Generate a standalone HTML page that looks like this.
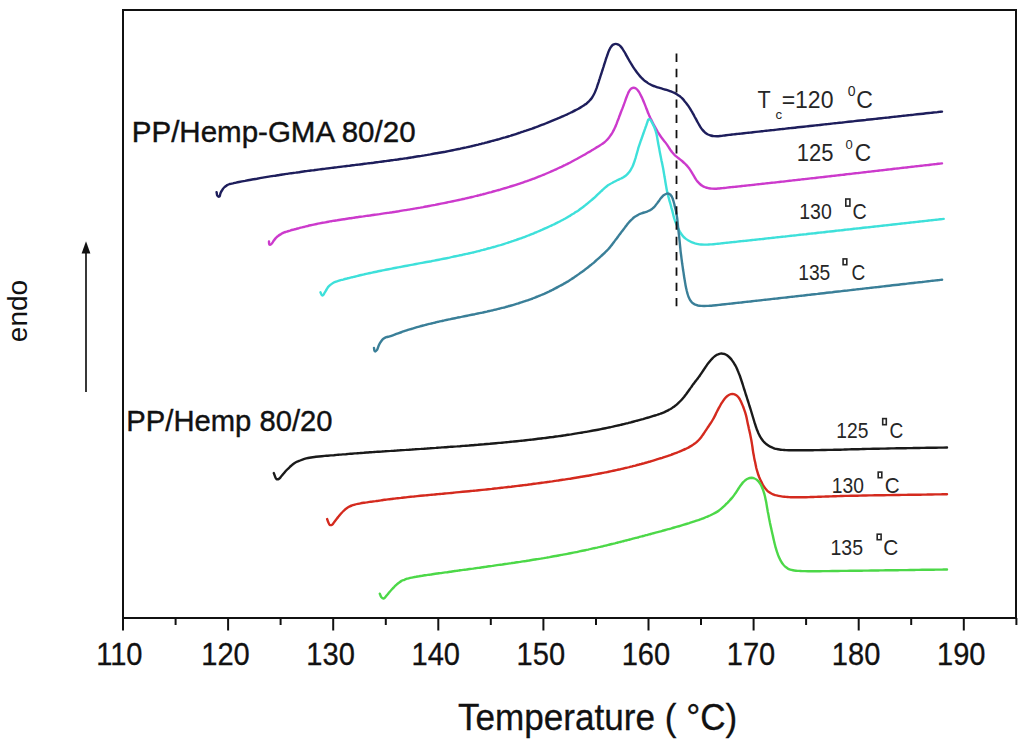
<!DOCTYPE html>
<html><head><meta charset="utf-8"><style>
html,body{margin:0;padding:0;background:#fff;width:1024px;height:746px;overflow:hidden}
svg{display:block}
text{font-family:"Liberation Sans",sans-serif}
</style></head><body>
<svg width="1024" height="746" viewBox="0 0 1024 746">
<rect x="0" y="0" width="1024" height="746" fill="#fff"/>
<g fill="none" stroke-width="2.4" stroke-linejoin="round" stroke-linecap="round">
<path d="M216.6 192.2 C216.9 193.4 216.7 194.7 217.4 195.7 C217.8 196.3 218.8 197.0 219.4 196.6 C220.3 195.9 220.0 194.3 220.5 193.3 C220.9 192.2 221.4 191.2 222.1 190.2 C222.7 189.3 223.3 188.3 224.1 187.5 C224.9 186.7 225.8 186.0 226.7 185.4 C227.7 184.8 228.7 184.4 229.7 184.0 C230.8 183.7 231.9 183.6 233.0 183.4 C234.0 183.1 235.0 182.9 236.1 182.6 C237.1 182.4 238.0 182.2 239.0 182.0 C240.0 181.8 241.0 181.6 242.0 181.4 C243.0 181.2 244.0 181.0 245.0 180.9 C246.0 180.7 247.0 180.5 248.0 180.3 C249.0 180.1 250.0 179.9 251.0 179.7 C252.0 179.6 252.9 179.4 253.9 179.2 C254.9 179.0 255.9 178.8 256.9 178.7 C257.9 178.5 258.9 178.3 259.9 178.1 C260.9 178.0 261.9 177.8 262.9 177.6 C263.9 177.5 264.9 177.3 265.9 177.1 C266.9 177.0 267.9 176.8 268.9 176.6 C269.9 176.5 270.9 176.3 271.9 176.1 C272.9 176.0 273.9 175.8 274.9 175.7 C275.9 175.5 276.9 175.4 277.9 175.2 C278.9 175.0 279.9 174.9 280.9 174.7 C281.9 174.6 282.9 174.4 283.9 174.3 C284.9 174.1 285.9 174.0 286.8 173.9 C287.8 173.7 288.8 173.6 289.8 173.4 C290.8 173.3 291.8 173.1 292.8 173.0 C293.8 172.8 294.8 172.7 295.8 172.6 C296.8 172.4 297.8 172.3 298.8 172.2 C299.8 172.0 300.8 171.9 301.8 171.7 C302.8 171.6 303.8 171.5 304.8 171.3 C305.8 171.2 306.8 171.1 307.8 170.9 C308.8 170.8 309.8 170.7 310.8 170.5 C311.8 170.4 312.8 170.3 313.8 170.2 C314.8 170.0 315.8 169.9 316.8 169.8 C317.8 169.6 318.8 169.5 319.8 169.4 C320.7 169.3 321.7 169.1 322.7 169.0 C323.7 168.9 324.7 168.8 325.7 168.6 C326.7 168.5 327.7 168.4 328.7 168.3 C329.7 168.1 330.7 168.0 331.7 167.9 C332.7 167.8 333.7 167.6 334.7 167.5 C335.7 167.4 336.7 167.3 337.7 167.1 C338.7 167.0 339.7 166.9 340.7 166.8 C341.7 166.6 342.7 166.5 343.7 166.4 C344.7 166.3 345.7 166.2 346.7 166.0 C347.7 165.9 348.7 165.8 349.7 165.7 C350.7 165.5 351.7 165.4 352.7 165.3 C353.6 165.2 354.6 165.1 355.6 164.9 C356.6 164.8 357.6 164.7 358.6 164.6 C359.6 164.4 360.6 164.3 361.6 164.2 C362.6 164.1 363.6 163.9 364.6 163.8 C365.6 163.7 366.6 163.6 367.6 163.4 C368.6 163.3 369.6 163.2 370.6 163.1 C371.6 162.9 372.6 162.8 373.6 162.7 C374.6 162.5 375.6 162.4 376.6 162.3 C377.6 162.2 378.6 162.0 379.6 161.9 C380.6 161.8 381.6 161.6 382.6 161.5 C383.6 161.4 384.6 161.2 385.6 161.1 C386.6 161.0 387.5 160.8 388.5 160.7 C389.5 160.6 390.5 160.4 391.5 160.3 C392.5 160.2 393.5 160.0 394.5 159.9 C395.5 159.8 396.5 159.6 397.5 159.5 C398.5 159.3 399.5 159.2 400.5 159.0 C401.5 158.9 402.5 158.8 403.5 158.6 C404.5 158.5 405.5 158.3 406.5 158.2 C407.5 158.0 408.5 157.9 409.5 157.7 C410.5 157.6 411.5 157.4 412.5 157.3 C413.5 157.1 414.5 157.0 415.5 156.8 C416.5 156.7 417.5 156.5 418.5 156.3 C419.5 156.2 420.5 156.0 421.4 155.9 C422.4 155.7 423.4 155.5 424.4 155.4 C425.4 155.2 426.4 155.0 427.4 154.9 C428.4 154.7 429.4 154.5 430.4 154.4 C431.4 154.2 432.4 154.0 433.4 153.8 C434.4 153.7 435.4 153.5 436.4 153.3 C437.4 153.1 438.4 153.0 439.4 152.8 C440.4 152.6 441.4 152.4 442.4 152.2 C443.4 152.0 444.4 151.8 445.4 151.7 C446.4 151.5 447.4 151.3 448.4 151.1 C449.4 150.9 450.4 150.7 451.4 150.5 C452.4 150.3 453.3 150.1 454.3 149.9 C455.3 149.7 456.3 149.5 457.3 149.3 C458.3 149.1 459.3 148.9 460.3 148.7 C461.3 148.4 462.3 148.2 463.3 148.0 C464.3 147.8 465.3 147.6 466.3 147.4 C467.3 147.1 468.3 146.9 469.3 146.7 C470.3 146.5 471.3 146.2 472.3 146.0 C473.3 145.8 474.3 145.5 475.3 145.3 C476.3 145.1 477.3 144.8 478.3 144.6 C479.3 144.3 480.3 144.1 481.3 143.8 C482.3 143.6 483.3 143.3 484.3 143.1 C485.3 142.8 486.2 142.6 487.2 142.3 C488.2 142.1 489.2 141.8 490.2 141.5 C491.2 141.3 492.2 141.0 493.2 140.7 C494.2 140.5 495.2 140.2 496.2 139.9 C497.2 139.6 498.2 139.4 499.2 139.1 C500.2 138.8 501.2 138.5 502.2 138.2 C503.2 137.9 504.2 137.6 505.2 137.4 C506.2 137.1 507.2 136.8 508.2 136.5 C509.2 136.2 510.2 135.9 511.2 135.5 C512.2 135.2 513.2 134.9 514.2 134.6 C515.2 134.3 516.2 134.0 517.2 133.6 C518.2 133.3 519.2 133.0 520.1 132.7 C521.1 132.3 522.1 132.0 523.1 131.7 C524.1 131.3 525.1 131.0 526.1 130.7 C527.1 130.3 528.1 130.0 529.1 129.6 C530.1 129.3 531.1 128.9 532.1 128.6 C533.1 128.2 534.1 127.8 535.1 127.5 C536.1 127.1 537.1 126.7 538.1 126.4 C539.1 126.0 540.1 125.6 541.1 125.2 C542.1 124.8 543.1 124.5 544.1 124.1 C545.1 123.7 546.1 123.3 547.1 122.9 C548.1 122.5 549.1 122.1 550.1 121.7 C551.1 121.3 552.1 120.9 553.1 120.4 C554.1 120.0 555.1 119.6 556.1 119.2 C557.1 118.7 558.1 118.3 559.1 117.9 C560.0 117.5 561.0 117.1 561.9 116.7 C562.8 116.3 563.7 115.9 564.6 115.5 C565.5 115.1 566.4 114.7 567.3 114.3 C568.2 113.8 569.1 113.4 570.0 113.0 C571.0 112.5 571.9 112.1 572.8 111.6 C573.8 111.1 574.7 110.6 575.6 110.1 C576.5 109.7 577.5 109.2 578.4 108.7 C579.3 108.1 580.2 107.6 581.1 107.1 C582.0 106.6 582.9 106.0 583.8 105.5 C584.6 104.9 585.5 104.3 586.3 103.7 C587.1 103.0 587.9 102.4 588.6 101.7 C589.3 100.9 590.0 100.2 590.7 99.4 C591.4 98.6 592.0 97.7 592.5 96.8 C593.1 95.9 593.6 95.0 594.1 94.0 C594.6 93.1 595.0 92.1 595.4 91.1 C595.8 90.1 596.2 89.1 596.6 88.1 C596.9 87.0 597.3 86.0 597.6 85.0 C598.0 83.9 598.3 82.9 598.7 81.8 C599.0 80.7 599.3 79.7 599.7 78.6 C600.0 77.6 600.4 76.6 600.7 75.5 C601.0 74.5 601.4 73.5 601.7 72.5 C602.0 71.5 602.4 70.4 602.7 69.4 C603.0 68.5 603.3 67.5 603.6 66.6 C603.9 65.6 604.2 64.7 604.5 63.7 C604.8 62.8 605.1 61.8 605.4 60.9 C605.7 59.8 606.0 58.8 606.4 57.8 C606.7 56.8 607.1 55.8 607.4 54.8 C607.8 53.8 608.1 52.8 608.5 51.8 C608.9 50.9 609.2 50.0 609.7 49.1 C610.1 48.2 610.6 47.4 611.2 46.6 C611.8 45.9 612.5 45.1 613.3 44.6 C614.0 44.2 614.9 43.9 615.8 43.9 C616.7 43.9 617.5 44.2 618.3 44.6 C619.1 45.1 619.9 45.7 620.6 46.4 C621.3 47.2 621.9 48.0 622.5 48.8 C623.1 49.7 623.6 50.5 624.1 51.4 C624.7 52.3 625.2 53.2 625.7 54.1 C626.2 55.1 626.7 56.0 627.2 56.9 C627.7 57.8 628.2 58.8 628.8 59.7 C629.3 60.7 629.9 61.7 630.5 62.7 C631.1 63.6 631.7 64.6 632.3 65.6 C632.8 66.4 633.3 67.2 633.9 68.1 C634.4 68.9 635.0 69.7 635.6 70.5 C636.2 71.4 636.9 72.4 637.6 73.3 C638.3 74.2 639.1 75.2 639.9 76.1 C640.6 76.9 641.4 77.7 642.2 78.5 C643.0 79.2 643.8 80.0 644.6 80.7 C645.5 81.4 646.4 82.0 647.3 82.6 C648.1 83.2 649.0 83.8 650.0 84.3 C650.8 84.8 651.8 85.2 652.7 85.6 C653.6 86.0 654.6 86.3 655.5 86.6 C656.6 87.0 657.7 87.4 658.8 87.7 C659.9 88.0 661.0 88.4 662.1 88.7 C663.1 89.0 664.1 89.2 665.0 89.5 C666.0 89.8 667.0 90.1 668.0 90.4 C668.9 90.7 669.9 91.0 670.9 91.4 C671.9 91.8 673.0 92.2 673.9 92.7 C674.9 93.1 675.9 93.6 676.8 94.2 C677.7 94.8 678.6 95.4 679.5 96.0 C680.3 96.7 681.2 97.4 682.0 98.2 C682.8 99.0 683.6 99.9 684.3 100.8 C685.1 101.6 685.8 102.6 686.5 103.5 C687.1 104.3 687.7 105.1 688.3 105.9 C688.8 106.7 689.4 107.5 689.9 108.3 C690.4 109.2 690.9 110.0 691.4 110.9 C692.0 111.8 692.5 112.7 693.0 113.7 C693.5 114.6 694.0 115.5 694.5 116.5 C695.0 117.4 695.5 118.3 696.0 119.2 C696.5 120.1 697.0 121.1 697.5 122.0 C698.0 122.9 698.5 123.8 699.0 124.6 C699.5 125.5 700.0 126.4 700.6 127.3 C701.2 128.2 701.8 129.1 702.5 129.9 C703.2 130.7 703.9 131.5 704.7 132.2 C705.6 132.9 706.5 133.6 707.5 134.2 C708.5 134.7 709.6 135.2 710.7 135.5 C711.7 135.8 712.8 136.0 713.8 136.1 C714.9 136.2 716.0 136.2 717.0 136.2 C718.0 136.2 719.1 136.1 720.1 136.0 C721.1 135.9 722.1 135.8 723.0 135.6 C724.0 135.5 725.0 135.4 726.0 135.2 C727.0 135.1 728.0 135.0 729.0 134.9 C730.0 134.8 731.0 134.7 732.0 134.5 C733.0 134.4 734.0 134.3 735.0 134.2 C736.0 134.1 736.9 134.0 737.9 133.9 C738.9 133.8 739.9 133.7 740.9 133.6 C741.9 133.4 742.9 133.3 743.9 133.2 C744.9 133.1 745.9 133.0 746.9 132.9 C747.9 132.8 748.9 132.7 749.9 132.6 C750.9 132.5 751.9 132.4 752.9 132.2 C753.9 132.1 754.9 132.0 755.9 131.9 C756.9 131.8 757.9 131.7 758.8 131.6 C759.8 131.5 760.8 131.4 761.8 131.3 C762.8 131.2 763.8 131.0 764.8 130.9 C765.8 130.8 766.8 130.7 767.8 130.6 C768.8 130.5 769.8 130.4 770.8 130.3 C771.8 130.2 772.8 130.1 773.8 130.0 C774.8 129.8 775.8 129.7 776.8 129.6 C777.8 129.5 778.8 129.4 779.7 129.3 C780.7 129.2 781.7 129.1 782.7 129.0 C783.7 128.9 784.7 128.8 785.7 128.6 C786.7 128.5 787.7 128.4 788.7 128.3 C789.7 128.2 790.7 128.1 791.7 128.0 C792.7 127.9 793.7 127.8 794.7 127.7 C795.7 127.6 796.7 127.4 797.7 127.3 C798.7 127.2 799.7 127.1 800.7 127.0 C801.6 126.9 802.6 126.8 803.6 126.7 C804.6 126.6 805.6 126.5 806.6 126.4 C807.6 126.3 808.6 126.1 809.6 126.0 C810.6 125.9 811.6 125.8 812.6 125.7 C813.6 125.6 814.6 125.5 815.6 125.4 C816.6 125.3 817.6 125.2 818.6 125.1 C819.6 124.9 820.6 124.8 821.6 124.7 C822.5 124.6 823.5 124.5 824.5 124.4 C825.5 124.3 826.5 124.2 827.5 124.1 C828.5 124.0 829.5 123.9 830.5 123.8 C831.5 123.6 832.5 123.5 833.5 123.4 C834.5 123.3 835.5 123.2 836.5 123.1 C837.5 123.0 838.5 122.9 839.5 122.8 C840.5 122.7 841.5 122.6 842.5 122.5 C843.5 122.3 844.4 122.2 845.4 122.1 C846.4 122.0 847.4 121.9 848.4 121.8 C849.4 121.7 850.4 121.6 851.4 121.5 C852.4 121.4 853.4 121.3 854.4 121.1 C855.4 121.0 856.4 120.9 857.4 120.8 C858.4 120.7 859.4 120.6 860.4 120.5 C861.4 120.4 862.4 120.3 863.4 120.2 C864.4 120.1 865.4 120.0 866.3 119.8 C867.3 119.7 868.3 119.6 869.3 119.5 C870.3 119.4 871.3 119.3 872.3 119.2 C873.3 119.1 874.3 119.0 875.3 118.9 C876.3 118.8 877.3 118.7 878.3 118.5 C879.3 118.4 880.3 118.3 881.3 118.2 C882.3 118.1 883.3 118.0 884.3 117.9 C885.3 117.8 886.3 117.7 887.3 117.6 C888.2 117.5 889.2 117.4 890.2 117.2 C891.2 117.1 892.2 117.0 893.2 116.9 C894.2 116.8 895.2 116.7 896.2 116.6 C897.2 116.5 898.2 116.4 899.2 116.3 C900.2 116.2 901.2 116.1 902.2 115.9 C903.2 115.8 904.2 115.7 905.2 115.6 C906.2 115.5 907.2 115.4 908.2 115.3 C909.2 115.2 910.1 115.1 911.1 115.0 C912.1 114.9 913.1 114.8 914.1 114.6 C915.1 114.5 916.1 114.4 917.1 114.3 C918.1 114.2 919.1 114.1 920.1 114.0 C921.1 113.9 922.1 113.8 923.1 113.7 C924.1 113.6 925.1 113.4 926.1 113.3 C927.1 113.2 928.1 113.1 929.1 113.0 C930.1 112.9 931.0 112.8 932.0 112.7 C933.0 112.6 933.9 112.5 934.9 112.4 C935.7 112.3 936.5 112.2 937.4 112.1 C937.9 112.0 938.5 112.0 939.1 111.9 C940.1 111.8 941.0 111.7 942.0 111.6" stroke="#1e1e5c"/>
<path d="M269.0 241.4 C269.2 242.5 268.6 244.1 269.5 244.7 C270.2 245.3 271.2 244.1 271.8 243.5 C272.7 242.7 273.1 241.5 273.8 240.6 C274.4 239.7 275.0 238.9 275.7 238.1 C276.5 237.4 277.2 236.6 278.1 236.0 C279.0 235.3 280.0 234.7 281.0 234.1 C281.9 233.5 282.9 232.9 284.0 232.5 C285.0 232.1 286.1 231.9 287.1 231.5 C288.1 231.2 289.1 230.9 290.1 230.6 C291.0 230.3 292.0 230.0 293.0 229.8 C294.0 229.5 294.9 229.2 295.9 229.0 C296.9 228.7 297.9 228.4 298.9 228.2 C299.9 227.9 300.9 227.6 301.9 227.4 C302.8 227.1 303.8 226.9 304.8 226.7 C305.8 226.4 306.8 226.2 307.8 226.0 C308.8 225.7 309.7 225.5 310.7 225.3 C311.7 225.1 312.7 224.9 313.7 224.6 C314.7 224.4 315.7 224.2 316.7 224.0 C317.6 223.8 318.6 223.6 319.6 223.4 C320.6 223.2 321.6 223.0 322.6 222.8 C323.6 222.7 324.6 222.5 325.5 222.3 C326.5 222.1 327.5 221.9 328.5 221.7 C329.5 221.6 330.5 221.4 331.4 221.2 C332.4 221.1 333.4 220.9 334.3 220.7 C335.3 220.6 336.3 220.4 337.3 220.3 C338.4 220.1 339.4 219.9 340.5 219.7 C341.6 219.6 342.7 219.4 343.8 219.2 C344.9 219.0 346.0 218.9 347.1 218.7 C348.2 218.6 349.2 218.4 350.3 218.2 C351.4 218.1 352.5 217.9 353.5 217.8 C354.6 217.6 355.7 217.5 356.8 217.3 C357.8 217.1 358.9 217.0 360.0 216.8 C361.1 216.7 362.2 216.5 363.2 216.4 C364.3 216.2 365.4 216.1 366.5 215.9 C367.5 215.8 368.6 215.6 369.7 215.5 C370.8 215.3 371.8 215.2 372.9 215.0 C374.0 214.9 375.1 214.7 376.2 214.6 C377.2 214.4 378.3 214.2 379.4 214.1 C380.5 213.9 381.5 213.8 382.6 213.6 C383.7 213.5 384.8 213.3 385.8 213.1 C386.9 213.0 388.0 212.8 389.1 212.7 C390.2 212.5 391.2 212.3 392.3 212.2 C393.4 212.0 394.5 211.8 395.5 211.7 C396.6 211.5 397.7 211.3 398.8 211.2 C399.9 211.0 400.9 210.8 402.0 210.6 C403.1 210.5 404.2 210.3 405.3 210.1 C406.4 209.9 407.5 209.8 408.6 209.6 C409.6 209.4 410.5 209.3 411.5 209.1 C412.5 208.9 413.4 208.8 414.4 208.6 C415.4 208.4 416.4 208.3 417.3 208.1 C418.3 207.9 419.3 207.7 420.3 207.6 C421.3 207.4 422.3 207.2 423.3 207.1 C424.3 206.9 425.2 206.7 426.2 206.5 C427.2 206.3 428.2 206.2 429.2 206.0 C430.2 205.8 431.2 205.6 432.1 205.4 C433.1 205.2 434.1 205.0 435.1 204.9 C436.1 204.7 437.1 204.5 438.1 204.3 C439.1 204.1 440.1 203.9 441.0 203.7 C442.0 203.5 443.0 203.3 444.0 203.1 C445.0 202.9 446.0 202.7 447.0 202.5 C447.9 202.3 448.9 202.1 449.9 201.9 C450.9 201.7 451.9 201.5 452.9 201.3 C453.9 201.1 454.9 200.9 455.8 200.6 C456.8 200.4 457.8 200.2 458.8 200.0 C459.8 199.8 460.8 199.6 461.8 199.3 C462.8 199.1 463.7 198.9 464.7 198.7 C465.7 198.4 466.7 198.2 467.7 198.0 C468.7 197.8 469.7 197.5 470.7 197.3 C471.6 197.1 472.6 196.8 473.6 196.6 C474.6 196.3 475.6 196.1 476.6 195.9 C477.6 195.6 478.5 195.4 479.5 195.1 C480.5 194.9 481.5 194.6 482.5 194.4 C483.5 194.1 484.5 193.9 485.5 193.6 C486.5 193.4 487.4 193.1 488.4 192.8 C489.4 192.6 490.4 192.3 491.4 192.1 C492.4 191.8 493.4 191.5 494.3 191.2 C495.3 191.0 496.3 190.7 497.3 190.4 C498.3 190.1 499.3 189.9 500.3 189.6 C501.3 189.3 502.2 189.0 503.2 188.7 C504.2 188.4 505.2 188.1 506.2 187.8 C507.2 187.5 508.2 187.2 509.2 186.9 C510.1 186.6 511.1 186.3 512.1 186.0 C513.1 185.7 514.1 185.4 515.1 185.1 C516.1 184.8 517.0 184.5 518.0 184.1 C519.0 183.8 520.0 183.5 521.0 183.1 C522.0 182.8 523.0 182.5 524.0 182.1 C524.9 181.8 525.9 181.4 526.9 181.1 C527.9 180.7 528.9 180.4 529.9 180.0 C530.9 179.7 531.9 179.3 532.9 178.9 C533.8 178.6 534.8 178.2 535.8 177.8 C536.8 177.4 537.8 177.1 538.7 176.7 C539.7 176.3 540.7 175.9 541.7 175.5 C542.7 175.1 543.7 174.7 544.7 174.3 C545.7 173.8 546.7 173.4 547.7 173.0 C548.7 172.6 549.7 172.2 550.7 171.7 C551.6 171.3 552.5 170.9 553.4 170.5 C554.3 170.1 555.2 169.7 556.1 169.3 C557.0 168.9 557.9 168.5 558.8 168.0 C559.7 167.6 560.6 167.2 561.5 166.8 C562.4 166.3 563.4 165.9 564.3 165.4 C565.2 165.0 566.1 164.5 567.0 164.1 C567.9 163.6 568.9 163.2 569.8 162.7 C570.7 162.2 571.6 161.8 572.5 161.3 C573.4 160.8 574.3 160.3 575.2 159.8 C576.1 159.3 577.0 158.9 578.0 158.3 C578.9 157.8 579.8 157.3 580.7 156.8 C581.6 156.3 582.5 155.8 583.4 155.3 C584.3 154.8 585.2 154.3 586.1 153.7 C587.0 153.2 588.0 152.7 588.9 152.1 C589.8 151.6 590.7 151.0 591.6 150.4 C592.6 149.9 593.5 149.3 594.4 148.8 C595.3 148.2 596.2 147.7 597.1 147.1 C598.0 146.6 598.9 146.1 599.8 145.5 C600.7 145.0 601.5 144.5 602.3 143.9 C603.2 143.4 604.0 142.8 604.7 142.1 C605.6 141.4 606.4 140.6 607.1 139.8 C607.9 139.0 608.6 138.1 609.3 137.2 C609.9 136.3 610.6 135.4 611.2 134.5 C611.8 133.6 612.4 132.7 612.9 131.7 C613.4 130.8 613.9 129.9 614.3 129.0 C614.8 128.1 615.2 127.2 615.6 126.3 C615.9 125.3 616.3 124.4 616.7 123.5 C617.0 122.6 617.4 121.6 617.7 120.7 C618.1 119.7 618.5 118.7 618.9 117.7 C619.2 116.7 619.6 115.7 620.0 114.8 C620.3 113.8 620.7 112.8 621.1 111.8 C621.5 110.9 621.8 109.9 622.2 109.0 C622.6 108.0 622.9 107.1 623.3 106.1 C623.7 105.1 624.0 104.1 624.4 103.1 C624.8 102.1 625.2 101.0 625.5 100.0 C625.9 98.9 626.3 97.8 626.7 96.8 C627.1 95.8 627.4 94.7 627.9 93.7 C628.3 92.8 628.7 91.8 629.3 90.9 C629.8 90.1 630.4 89.2 631.2 88.6 C632.0 88.1 633.0 87.6 633.9 87.7 C634.9 87.8 635.8 88.3 636.5 88.9 C637.5 89.7 638.1 90.7 638.8 91.6 C639.4 92.5 639.8 93.4 640.3 94.4 C640.8 95.3 641.3 96.2 641.7 97.2 C642.2 98.1 642.6 99.1 643.0 100.1 C643.5 101.1 643.9 102.1 644.3 103.1 C644.7 104.1 645.1 105.1 645.5 106.1 C645.9 107.1 646.2 108.1 646.6 109.1 C647.0 110.0 647.4 111.0 647.7 112.0 C648.1 113.0 648.6 113.9 649.0 114.9 C649.5 116.0 649.9 117.0 650.4 118.1 C650.9 119.1 651.5 120.2 652.0 121.2 C652.4 122.1 652.9 123.1 653.4 124.0 C653.9 124.9 654.3 125.7 654.8 126.6 C655.3 127.5 655.7 128.3 656.2 129.2 C656.7 130.1 657.2 131.0 657.7 131.8 C658.3 132.7 658.8 133.6 659.4 134.5 C659.9 135.3 660.5 136.2 661.1 137.0 C661.7 137.8 662.4 138.7 663.0 139.5 C663.6 140.3 664.3 141.1 664.9 141.9 C665.6 142.8 666.2 143.6 666.8 144.4 C667.4 145.2 667.9 146.1 668.5 146.9 C669.0 147.8 669.6 148.6 670.1 149.4 C670.8 150.3 671.4 151.2 672.0 152.0 C672.8 153.0 673.6 153.9 674.4 154.8 C675.2 155.5 676.0 156.2 676.9 156.9 C677.7 157.6 678.5 158.2 679.4 158.9 C680.3 159.6 681.2 160.3 682.1 161.0 C683.0 161.8 683.9 162.6 684.7 163.4 C685.6 164.2 686.3 165.1 687.1 165.9 C687.9 166.8 688.6 167.7 689.3 168.6 C689.9 169.5 690.5 170.3 691.0 171.2 C691.5 172.0 692.0 172.8 692.5 173.7 C693.0 174.5 693.5 175.4 694.0 176.2 C694.5 177.0 694.9 177.9 695.5 178.7 C696.1 179.6 696.7 180.6 697.4 181.4 C698.2 182.3 699.0 183.2 699.9 184.0 C700.7 184.7 701.6 185.4 702.6 186.0 C703.5 186.6 704.6 187.0 705.6 187.4 C706.6 187.8 707.7 188.0 708.7 188.2 C709.7 188.4 710.8 188.6 711.8 188.6 C712.9 188.7 714.0 188.7 715.0 188.7 C716.0 188.7 717.1 188.6 718.1 188.5 C719.0 188.5 720.0 188.4 721.0 188.3 C722.0 188.2 723.0 188.1 724.0 188.0 C725.0 187.9 726.0 187.8 727.0 187.6 C728.0 187.5 729.0 187.4 729.9 187.3 C730.9 187.2 731.9 187.1 732.9 187.0 C733.9 186.9 734.9 186.8 735.9 186.7 C736.9 186.6 737.9 186.5 738.9 186.4 C739.9 186.3 740.9 186.2 741.9 186.0 C742.9 185.9 743.9 185.8 744.9 185.7 C745.9 185.6 746.9 185.5 747.9 185.4 C748.9 185.3 749.9 185.2 750.9 185.1 C751.9 185.0 752.9 184.9 753.9 184.8 C754.9 184.6 755.8 184.5 756.8 184.4 C757.8 184.3 758.8 184.2 759.8 184.1 C760.8 184.0 761.8 183.9 762.8 183.8 C763.8 183.7 764.8 183.6 765.8 183.4 C766.8 183.3 767.8 183.2 768.8 183.1 C769.8 183.0 770.8 182.9 771.8 182.8 C772.8 182.7 773.8 182.6 774.8 182.5 C775.8 182.3 776.8 182.2 777.8 182.1 C778.8 182.0 779.7 181.9 780.7 181.8 C781.7 181.7 782.7 181.6 783.7 181.5 C784.7 181.3 785.7 181.2 786.7 181.1 C787.7 181.0 788.7 180.9 789.7 180.8 C790.7 180.7 791.7 180.6 792.7 180.4 C793.7 180.3 794.7 180.2 795.7 180.1 C796.7 180.0 797.7 179.9 798.7 179.8 C799.7 179.7 800.7 179.5 801.6 179.4 C802.6 179.3 803.6 179.2 804.6 179.1 C805.6 179.0 806.6 178.9 807.6 178.8 C808.6 178.6 809.6 178.5 810.6 178.4 C811.6 178.3 812.6 178.2 813.6 178.1 C814.6 178.0 815.6 177.9 816.6 177.7 C817.6 177.6 818.6 177.5 819.6 177.4 C820.6 177.3 821.6 177.2 822.6 177.1 C823.5 176.9 824.5 176.8 825.5 176.7 C826.5 176.6 827.5 176.5 828.5 176.4 C829.5 176.3 830.5 176.2 831.5 176.0 C832.5 175.9 833.5 175.8 834.5 175.7 C835.5 175.6 836.5 175.5 837.5 175.4 C838.5 175.2 839.5 175.1 840.5 175.0 C841.5 174.9 842.5 174.8 843.5 174.7 C844.5 174.6 845.4 174.4 846.4 174.3 C847.4 174.2 848.4 174.1 849.4 174.0 C850.4 173.9 851.4 173.8 852.4 173.6 C853.4 173.5 854.4 173.4 855.4 173.3 C856.4 173.2 857.4 173.1 858.4 173.0 C859.4 172.8 860.4 172.7 861.4 172.6 C862.4 172.5 863.4 172.4 864.4 172.3 C865.4 172.2 866.3 172.0 867.3 171.9 C868.3 171.8 869.3 171.7 870.3 171.6 C871.3 171.5 872.3 171.3 873.3 171.2 C874.3 171.1 875.3 171.0 876.3 170.9 C877.3 170.8 878.3 170.7 879.3 170.5 C880.3 170.4 881.3 170.3 882.3 170.2 C883.3 170.1 884.3 170.0 885.3 169.9 C886.3 169.7 887.3 169.6 888.2 169.5 C889.2 169.4 890.2 169.3 891.2 169.2 C892.2 169.1 893.2 168.9 894.2 168.8 C895.2 168.7 896.2 168.6 897.2 168.5 C898.2 168.4 899.2 168.3 900.2 168.1 C901.2 168.0 902.2 167.9 903.2 167.8 C904.2 167.7 905.2 167.6 906.2 167.5 C907.2 167.4 908.2 167.2 909.1 167.1 C910.1 167.0 911.1 166.9 912.1 166.8 C913.1 166.7 914.1 166.6 915.1 166.4 C916.1 166.3 917.1 166.2 918.1 166.1 C919.1 166.0 920.1 165.9 921.1 165.8 C922.1 165.7 923.1 165.5 924.1 165.4 C925.1 165.3 926.1 165.2 927.1 165.1 C928.1 165.0 929.1 164.9 930.1 164.7 C931.0 164.6 932.0 164.5 933.0 164.4 C933.9 164.3 934.9 164.2 935.8 164.1 C936.5 164.0 937.3 163.9 938.0 163.8 C939.3 163.7 940.7 163.5 942.0 163.4" stroke="#cc3acc"/>
<path d="M320.5 292.3 C321.2 293.4 321.2 295.4 322.5 295.5 C323.7 295.6 324.0 293.6 324.7 292.6 C325.4 291.6 325.9 290.6 326.6 289.5 C327.2 288.6 327.8 287.5 328.5 286.6 C329.2 285.8 330.1 285.1 331.0 284.4 C331.8 283.7 332.8 283.1 333.8 282.5 C334.7 282.0 335.8 281.7 336.9 281.3 C337.9 281.0 339.0 280.7 340.1 280.3 C341.1 280.1 342.1 279.8 343.1 279.6 C344.1 279.3 345.1 279.0 346.1 278.8 C347.1 278.5 348.1 278.2 349.1 278.0 C350.2 277.7 351.2 277.5 352.2 277.2 C353.2 277.0 354.2 276.7 355.2 276.5 C356.2 276.2 357.2 276.0 358.3 275.7 C359.3 275.5 360.3 275.3 361.3 275.0 C362.3 274.8 363.3 274.6 364.4 274.3 C365.4 274.1 366.4 273.9 367.4 273.6 C368.4 273.4 369.4 273.2 370.4 273.0 C371.5 272.8 372.5 272.5 373.5 272.3 C374.5 272.1 375.5 271.9 376.5 271.7 C377.6 271.5 378.6 271.3 379.6 271.0 C380.6 270.8 381.6 270.6 382.6 270.4 C383.6 270.2 384.7 270.0 385.7 269.8 C386.7 269.6 387.7 269.4 388.7 269.2 C389.7 269.0 390.7 268.8 391.8 268.6 C392.8 268.4 393.8 268.2 394.8 268.0 C395.8 267.8 396.8 267.6 397.8 267.4 C398.9 267.2 399.9 267.1 400.9 266.9 C401.9 266.7 402.9 266.5 403.9 266.3 C405.0 266.1 406.0 265.9 407.0 265.7 C408.0 265.5 409.0 265.3 410.0 265.1 C411.0 265.0 412.1 264.8 413.1 264.6 C414.1 264.4 415.1 264.2 416.1 264.0 C417.1 263.8 418.1 263.6 419.2 263.4 C420.2 263.3 421.2 263.1 422.2 262.9 C423.2 262.7 424.2 262.5 425.2 262.3 C426.3 262.1 427.3 261.9 428.3 261.7 C429.3 261.5 430.3 261.3 431.3 261.2 C432.4 261.0 433.4 260.8 434.4 260.6 C435.4 260.4 436.4 260.2 437.4 260.0 C438.4 259.8 439.5 259.6 440.5 259.4 C441.5 259.2 442.5 259.0 443.5 258.8 C444.5 258.6 445.5 258.4 446.6 258.2 C447.6 258.0 448.6 257.8 449.6 257.6 C450.6 257.3 451.6 257.1 452.6 256.9 C453.7 256.7 454.7 256.5 455.7 256.3 C456.7 256.1 457.7 255.9 458.7 255.6 C459.8 255.4 460.8 255.2 461.8 255.0 C462.8 254.7 463.8 254.5 464.8 254.3 C465.8 254.1 466.9 253.8 467.9 253.6 C468.9 253.4 469.9 253.1 470.9 252.9 C471.9 252.7 472.9 252.4 474.0 252.2 C475.0 251.9 476.0 251.7 477.0 251.4 C478.0 251.2 479.0 250.9 480.1 250.7 C481.1 250.4 482.1 250.1 483.1 249.9 C484.1 249.6 485.1 249.4 486.1 249.1 C487.1 248.8 488.2 248.5 489.2 248.3 C490.2 248.0 491.2 247.7 492.2 247.4 C493.2 247.1 494.3 246.9 495.3 246.6 C496.3 246.3 497.3 246.0 498.3 245.7 C499.3 245.4 500.3 245.1 501.4 244.8 C502.4 244.5 503.4 244.1 504.4 243.8 C505.4 243.5 506.4 243.2 507.5 242.9 C508.5 242.5 509.5 242.2 510.5 241.9 C511.5 241.5 512.5 241.2 513.5 240.9 C514.6 240.5 515.6 240.2 516.6 239.8 C517.6 239.4 518.7 239.1 519.7 238.7 C520.7 238.4 521.7 238.0 522.7 237.6 C523.7 237.3 524.6 236.9 525.5 236.6 C526.5 236.2 527.4 235.9 528.3 235.5 C529.3 235.1 530.2 234.8 531.1 234.4 C532.0 234.0 533.0 233.7 533.9 233.3 C534.8 232.9 535.8 232.5 536.7 232.1 C537.7 231.7 538.6 231.3 539.6 230.9 C540.5 230.5 541.4 230.1 542.4 229.7 C543.3 229.3 544.2 228.9 545.1 228.4 C546.1 228.0 547.0 227.6 548.0 227.2 C548.9 226.7 549.8 226.3 550.8 225.8 C551.7 225.4 552.7 224.9 553.6 224.5 C554.5 224.0 555.5 223.6 556.4 223.1 C557.3 222.6 558.3 222.2 559.2 221.7 C560.1 221.2 561.1 220.7 562.0 220.2 C563.0 219.7 563.9 219.2 564.9 218.7 C565.8 218.1 566.8 217.6 567.7 217.1 C568.6 216.5 569.6 216.0 570.5 215.4 C571.4 214.9 572.3 214.3 573.2 213.8 C574.1 213.2 574.9 212.7 575.8 212.1 C576.7 211.5 577.6 210.9 578.4 210.4 C579.3 209.8 580.2 209.2 581.0 208.5 C581.9 207.9 582.7 207.3 583.5 206.7 C584.4 206.0 585.2 205.4 586.0 204.7 C586.9 204.0 587.7 203.4 588.5 202.7 C589.3 202.0 590.1 201.3 590.9 200.6 C591.8 199.9 592.6 199.2 593.4 198.5 C594.2 197.8 595.0 197.1 595.8 196.3 C596.5 195.6 597.3 194.9 598.0 194.2 C598.8 193.5 599.5 192.8 600.2 192.1 C601.0 191.4 601.7 190.7 602.5 190.0 C603.2 189.3 604.0 188.6 604.8 187.9 C605.5 187.3 606.3 186.6 607.1 186.0 C608.0 185.4 608.8 184.8 609.7 184.2 C610.6 183.7 611.5 183.2 612.5 182.7 C613.4 182.1 614.4 181.7 615.3 181.2 C616.3 180.7 617.2 180.3 618.2 179.8 C619.1 179.4 620.1 178.9 621.1 178.5 C622.0 178.0 623.0 177.5 623.9 176.9 C624.8 176.4 625.7 175.8 626.4 175.1 C627.2 174.4 628.0 173.6 628.6 172.8 C629.4 171.9 630.1 170.9 630.7 169.9 C631.3 168.9 631.9 167.8 632.4 166.8 C632.9 165.7 633.3 164.6 633.7 163.5 C634.1 162.5 634.5 161.4 634.8 160.4 C635.1 159.5 635.4 158.5 635.7 157.6 C635.9 156.6 636.2 155.7 636.5 154.7 C636.8 153.7 637.0 152.8 637.3 151.8 C637.6 150.8 637.9 149.9 638.1 148.9 C638.4 147.9 638.7 147.0 639.0 146.0 C639.3 145.1 639.7 144.1 640.0 143.1 C640.3 142.2 640.6 141.2 641.0 140.3 C641.3 139.3 641.7 138.4 642.0 137.5 C642.3 136.5 642.7 135.5 643.0 134.5 C643.4 133.5 643.7 132.5 644.1 131.5 C644.5 130.5 644.8 129.4 645.2 128.4 C645.5 127.4 645.9 126.4 646.3 125.4 C646.6 124.4 646.9 123.4 647.3 122.4 C647.7 121.4 647.8 120.0 648.7 119.3 C649.2 119.0 650.0 119.5 650.5 120.0 C651.2 120.7 651.5 121.8 652.0 122.7 C652.5 123.6 653.0 124.5 653.4 125.4 C653.9 126.3 654.3 127.3 654.7 128.2 C655.1 129.2 655.5 130.2 655.7 131.1 C656.0 132.1 656.3 133.1 656.5 134.1 C656.7 135.0 656.9 136.0 657.1 137.0 C657.3 138.0 657.4 139.0 657.6 140.0 C657.8 141.0 658.0 142.0 658.1 143.0 C658.3 144.0 658.5 145.0 658.7 146.0 C658.9 147.0 659.1 148.0 659.3 149.0 C659.4 150.0 659.6 151.0 659.8 152.0 C660.0 153.0 660.2 154.0 660.4 155.0 C660.6 156.0 660.8 157.0 661.0 158.0 C661.2 159.1 661.4 160.1 661.6 161.1 C661.9 162.2 662.1 163.2 662.3 164.2 C662.5 165.3 662.7 166.3 662.9 167.3 C663.1 168.4 663.3 169.4 663.5 170.4 C663.7 171.5 663.8 172.5 664.0 173.6 C664.2 174.6 664.4 175.7 664.5 176.8 C664.7 177.8 664.9 178.9 665.1 179.9 C665.2 181.0 665.4 182.0 665.6 183.1 C665.7 184.0 665.9 185.0 666.1 186.0 C666.3 187.0 666.4 188.0 666.6 189.0 C666.8 190.0 667.0 191.0 667.2 191.9 C667.5 193.0 667.7 194.0 668.0 195.0 C668.2 196.1 668.5 197.1 668.8 198.1 C669.1 199.1 669.3 200.2 669.6 201.2 C669.9 202.2 670.2 203.2 670.5 204.2 C670.8 205.3 671.1 206.3 671.3 207.3 C671.6 208.3 671.9 209.3 672.2 210.3 C672.4 211.4 672.7 212.5 673.0 213.6 C673.2 214.7 673.5 215.8 673.8 216.9 C674.1 218.0 674.4 219.0 674.8 220.1 C675.1 221.1 675.5 222.1 675.9 223.1 C676.3 224.1 676.7 225.1 677.2 226.1 C677.6 227.1 678.0 228.0 678.4 228.9 C678.9 229.8 679.3 230.6 679.8 231.5 C680.4 232.5 680.9 233.4 681.5 234.3 C682.2 235.2 682.8 236.1 683.6 236.9 C684.3 237.7 685.1 238.3 685.9 238.9 C686.7 239.5 687.5 240.0 688.4 240.5 C689.4 241.1 690.4 241.6 691.5 242.1 C692.6 242.6 693.8 243.0 695.0 243.4 C696.0 243.7 697.1 244.0 698.2 244.1 C699.2 244.3 700.3 244.4 701.3 244.5 C702.3 244.6 703.3 244.6 704.3 244.6 C705.3 244.6 706.3 244.6 707.3 244.6 C708.4 244.5 709.4 244.5 710.4 244.4 C711.4 244.4 712.4 244.3 713.4 244.2 C714.4 244.1 715.4 244.0 716.4 243.9 C717.4 243.8 718.4 243.7 719.4 243.6 C720.4 243.5 721.4 243.3 722.4 243.2 C723.4 243.1 724.4 243.0 725.4 242.9 C726.4 242.8 727.4 242.7 728.4 242.6 C729.4 242.5 730.4 242.4 731.3 242.3 C732.3 242.2 733.3 242.1 734.3 242.0 C735.3 241.9 736.3 241.8 737.3 241.6 C738.3 241.5 739.3 241.4 740.3 241.3 C741.3 241.2 742.3 241.1 743.3 241.0 C744.3 240.9 745.3 240.8 746.3 240.7 C747.3 240.6 748.3 240.5 749.3 240.4 C750.3 240.3 751.3 240.1 752.3 240.0 C753.3 239.9 754.3 239.8 755.3 239.7 C756.3 239.6 757.3 239.5 758.3 239.4 C759.3 239.3 760.3 239.2 761.3 239.1 C762.3 239.0 763.3 238.9 764.3 238.7 C765.3 238.6 766.3 238.5 767.2 238.4 C768.2 238.3 769.2 238.2 770.2 238.1 C771.2 238.0 772.2 237.9 773.2 237.8 C774.2 237.7 775.2 237.5 776.2 237.4 C777.2 237.3 778.2 237.2 779.2 237.1 C780.2 237.0 781.2 236.9 782.2 236.8 C783.2 236.7 784.2 236.6 785.2 236.5 C786.2 236.3 787.2 236.2 788.2 236.1 C789.2 236.0 790.2 235.9 791.2 235.8 C792.2 235.7 793.2 235.6 794.2 235.5 C795.2 235.4 796.2 235.3 797.2 235.1 C798.2 235.0 799.2 234.9 800.1 234.8 C801.1 234.7 802.1 234.6 803.1 234.5 C804.1 234.4 805.1 234.3 806.1 234.2 C807.1 234.0 808.1 233.9 809.1 233.8 C810.1 233.7 811.1 233.6 812.1 233.5 C813.1 233.4 814.1 233.3 815.1 233.2 C816.1 233.1 817.1 232.9 818.1 232.8 C819.1 232.7 820.1 232.6 821.1 232.5 C822.1 232.4 823.1 232.3 824.1 232.2 C825.1 232.1 826.1 231.9 827.1 231.8 C828.1 231.7 829.1 231.6 830.1 231.5 C831.1 231.4 832.1 231.3 833.0 231.2 C834.0 231.1 835.0 231.0 836.0 230.8 C837.0 230.7 838.0 230.6 839.0 230.5 C840.0 230.4 841.0 230.3 842.0 230.2 C843.0 230.1 844.0 230.0 845.0 229.8 C846.0 229.7 847.0 229.6 848.0 229.5 C849.0 229.4 850.0 229.3 851.0 229.2 C852.0 229.1 853.0 229.0 854.0 228.8 C855.0 228.7 856.0 228.6 857.0 228.5 C858.0 228.4 859.0 228.3 860.0 228.2 C861.0 228.1 862.0 228.0 863.0 227.8 C863.9 227.7 864.9 227.6 865.9 227.5 C866.9 227.4 867.9 227.3 868.9 227.2 C869.9 227.1 870.9 227.0 871.9 226.9 C872.9 226.7 873.9 226.6 874.9 226.5 C875.9 226.4 876.9 226.3 877.9 226.2 C878.9 226.1 879.9 226.0 880.9 225.9 C881.9 225.7 882.9 225.6 883.9 225.5 C884.9 225.4 885.9 225.3 886.9 225.2 C887.9 225.1 888.9 225.0 889.9 224.9 C890.9 224.7 891.9 224.6 892.9 224.5 C893.9 224.4 894.9 224.3 895.8 224.2 C896.8 224.1 897.8 224.0 898.8 223.9 C899.8 223.7 900.8 223.6 901.8 223.5 C902.8 223.4 903.8 223.3 904.8 223.2 C905.8 223.1 906.8 223.0 907.8 222.9 C908.8 222.8 909.8 222.6 910.8 222.5 C911.8 222.4 912.8 222.3 913.8 222.2 C914.8 222.1 915.8 222.0 916.8 221.9 C917.8 221.8 918.8 221.6 919.8 221.5 C920.8 221.4 921.8 221.3 922.8 221.2 C923.8 221.1 924.8 221.0 925.8 220.9 C926.8 220.8 927.7 220.7 928.7 220.5 C929.7 220.4 930.7 220.3 931.7 220.2 C932.7 220.1 933.7 220.0 934.7 219.9 C935.7 219.8 936.6 219.7 937.6 219.6 C938.4 219.5 939.2 219.4 940.0 219.3 C941.3 219.2 942.5 219.0 943.7 218.9" stroke="#3ee0da"/>
<path d="M374.0 348.0 C374.3 349.1 373.9 350.7 374.9 351.3 C375.6 351.8 376.5 350.6 377.0 349.9 C377.7 349.0 377.9 347.7 378.3 346.6 C378.7 345.7 379.0 344.8 379.5 343.9 C380.0 342.9 380.6 342.0 381.2 341.2 C381.9 340.3 382.6 339.4 383.4 338.7 C384.3 338.1 385.3 337.6 386.3 337.2 C387.4 336.8 388.6 336.7 389.6 336.4 C390.7 336.1 391.7 335.7 392.8 335.3 C393.8 335.0 394.8 334.6 395.8 334.2 C396.8 333.8 397.8 333.5 398.8 333.1 C399.8 332.7 400.8 332.3 401.9 332.0 C402.9 331.6 403.9 331.3 404.9 330.9 C405.9 330.6 406.9 330.3 407.9 329.9 C408.9 329.6 409.9 329.3 411.0 329.0 C412.0 328.7 413.0 328.4 414.0 328.1 C415.0 327.8 416.0 327.5 417.0 327.2 C418.1 326.9 419.1 326.6 420.1 326.3 C421.1 326.1 422.1 325.8 423.1 325.5 C424.1 325.2 425.1 325.0 426.2 324.7 C427.2 324.5 428.2 324.2 429.2 323.9 C430.2 323.7 431.2 323.4 432.2 323.2 C433.2 323.0 434.3 322.7 435.3 322.5 C436.3 322.2 437.3 322.0 438.3 321.8 C439.3 321.5 440.3 321.3 441.4 321.1 C442.4 320.9 443.4 320.6 444.4 320.4 C445.4 320.2 446.4 320.0 447.4 319.8 C448.4 319.6 449.5 319.3 450.5 319.1 C451.5 318.9 452.5 318.7 453.5 318.5 C454.5 318.3 455.5 318.1 456.5 317.9 C457.6 317.7 458.6 317.5 459.6 317.3 C460.6 317.0 461.6 316.8 462.6 316.6 C463.6 316.4 464.6 316.2 465.7 316.0 C466.7 315.8 467.7 315.6 468.7 315.4 C469.7 315.2 470.7 315.0 471.7 314.8 C472.7 314.6 473.8 314.4 474.8 314.2 C475.8 313.9 476.8 313.7 477.8 313.5 C478.8 313.3 479.8 313.1 480.9 312.9 C481.9 312.7 482.9 312.4 483.9 312.2 C484.9 312.0 485.9 311.8 486.9 311.6 C487.9 311.3 489.0 311.1 490.0 310.9 C491.0 310.6 492.0 310.4 493.0 310.2 C494.0 309.9 495.0 309.7 496.0 309.5 C497.1 309.2 498.1 309.0 499.1 308.7 C500.1 308.5 501.1 308.2 502.1 307.9 C503.1 307.7 504.2 307.4 505.2 307.2 C506.2 306.9 507.2 306.6 508.2 306.3 C509.2 306.1 510.2 305.8 511.2 305.5 C512.2 305.2 513.3 304.9 514.3 304.6 C515.3 304.3 516.3 304.0 517.3 303.7 C518.3 303.4 519.4 303.1 520.4 302.7 C521.4 302.4 522.4 302.1 523.4 301.7 C524.4 301.4 525.4 301.1 526.4 300.7 C527.5 300.4 528.5 300.0 529.5 299.6 C530.5 299.3 531.5 298.9 532.6 298.5 C533.6 298.1 534.6 297.7 535.6 297.3 C536.6 296.9 537.5 296.6 538.5 296.2 C539.4 295.8 540.4 295.4 541.3 295.0 C542.2 294.6 543.1 294.2 544.1 293.8 C545.0 293.4 545.9 293.0 546.8 292.6 C547.8 292.1 548.7 291.7 549.6 291.2 C550.6 290.8 551.5 290.3 552.5 289.9 C553.4 289.4 554.4 288.9 555.3 288.4 C556.3 287.9 557.2 287.4 558.1 286.9 C559.1 286.5 560.0 285.9 560.9 285.4 C561.8 284.9 562.7 284.4 563.5 283.9 C564.4 283.4 565.3 282.9 566.1 282.4 C567.0 281.9 567.9 281.4 568.7 280.9 C569.6 280.3 570.4 279.8 571.3 279.3 C572.1 278.7 573.0 278.1 573.9 277.6 C574.7 277.0 575.6 276.4 576.5 275.8 C577.4 275.2 578.3 274.6 579.2 273.9 C580.0 273.3 580.9 272.7 581.8 272.1 C582.6 271.4 583.5 270.8 584.3 270.2 C585.2 269.5 586.0 268.9 586.8 268.2 C587.7 267.6 588.5 266.9 589.3 266.3 C590.1 265.6 590.9 265.0 591.7 264.3 C592.6 263.6 593.4 263.0 594.2 262.3 C595.0 261.6 595.8 260.9 596.5 260.2 C597.3 259.5 598.1 258.8 598.9 258.1 C599.7 257.4 600.5 256.7 601.2 256.0 C602.0 255.3 602.8 254.6 603.5 253.9 C604.3 253.2 605.0 252.4 605.8 251.7 C606.5 251.0 607.3 250.2 608.0 249.5 C608.7 248.7 609.4 247.9 610.1 247.1 C610.8 246.3 611.4 245.4 612.1 244.6 C612.7 243.7 613.4 242.9 614.0 242.0 C614.7 241.2 615.3 240.3 615.9 239.4 C616.6 238.6 617.2 237.7 617.9 236.9 C618.5 236.0 619.1 235.1 619.8 234.3 C620.4 233.4 621.1 232.6 621.7 231.7 C622.3 230.9 623.0 230.0 623.6 229.2 C624.3 228.3 624.9 227.5 625.5 226.6 C626.2 225.8 626.8 225.0 627.4 224.1 C628.2 223.2 629.0 222.3 629.8 221.4 C630.6 220.5 631.5 219.6 632.4 218.8 C633.2 218.0 634.2 217.3 635.2 216.6 C636.1 215.9 637.1 215.3 638.2 214.8 C639.1 214.3 640.2 213.9 641.2 213.5 C642.2 213.1 643.1 212.8 644.1 212.5 C645.1 212.2 646.0 211.9 647.0 211.6 C647.9 211.2 648.8 210.8 649.7 210.4 C650.6 209.9 651.4 209.3 652.3 208.7 C653.2 207.9 654.1 207.1 654.9 206.2 C655.7 205.2 656.5 204.2 657.3 203.1 C657.9 202.2 658.6 201.3 659.3 200.4 C659.9 199.5 660.5 198.7 661.2 197.8 C662.0 197.0 662.7 196.0 663.6 195.3 C664.6 194.6 665.6 193.9 666.8 193.6 C667.7 193.4 668.7 193.6 669.6 194.1 C670.3 194.4 670.9 195.2 671.3 195.9 C671.9 196.6 672.2 197.5 672.6 198.4 C672.9 199.3 673.2 200.3 673.5 201.2 C673.8 202.3 674.1 203.4 674.4 204.5 C674.6 205.6 674.9 206.7 675.2 207.9 C675.5 209.0 675.7 210.1 676.0 211.2 C676.2 212.4 676.4 213.5 676.6 214.7 C676.8 215.9 677.0 217.0 677.2 218.2 C677.3 219.2 677.4 220.1 677.5 221.1 C677.6 222.1 677.7 223.1 677.8 224.0 C677.9 225.0 678.0 226.0 678.1 227.0 C678.2 228.0 678.3 229.0 678.4 230.0 C678.5 231.0 678.6 232.0 678.7 233.0 C678.8 234.0 679.0 235.0 679.1 236.0 C679.2 237.0 679.3 238.0 679.4 239.0 C679.5 240.0 679.6 241.0 679.7 242.0 C679.8 243.1 679.9 244.1 680.0 245.1 C680.1 246.1 680.2 247.2 680.3 248.2 C680.4 249.2 680.5 250.3 680.6 251.3 C680.7 252.3 680.9 253.4 681.0 254.4 C681.1 255.4 681.3 256.5 681.4 257.5 C681.5 258.6 681.7 259.6 681.8 260.7 C681.9 261.7 682.1 262.7 682.2 263.8 C682.4 264.8 682.5 265.9 682.7 266.9 C682.8 268.0 683.0 269.0 683.1 270.1 C683.3 271.0 683.4 272.0 683.6 273.0 C683.7 274.0 683.9 275.0 684.0 276.0 C684.2 277.0 684.3 278.0 684.5 279.0 C684.7 279.9 684.8 280.9 685.0 281.9 C685.2 282.9 685.3 283.9 685.5 284.9 C685.7 285.9 685.9 286.9 686.1 287.9 C686.3 288.9 686.6 289.9 686.8 291.0 C687.1 292.0 687.3 293.0 687.6 294.0 C687.9 295.0 688.2 296.0 688.6 296.9 C689.0 298.0 689.4 299.0 690.0 299.9 C690.6 300.9 691.3 301.8 692.1 302.6 C692.9 303.3 693.8 303.9 694.7 304.4 C695.8 304.9 696.9 305.2 698.0 305.5 C699.0 305.7 700.1 305.8 701.2 305.9 C702.1 306.0 703.1 306.0 704.1 306.0 C705.1 306.0 706.0 306.0 707.0 305.9 C708.0 305.9 709.0 305.8 710.0 305.7 C711.0 305.7 712.0 305.6 713.0 305.5 C714.0 305.4 715.0 305.3 716.0 305.2 C717.0 305.1 718.0 305.0 719.0 304.9 C720.0 304.8 721.0 304.6 722.0 304.5 C723.0 304.4 724.0 304.3 725.0 304.2 C726.0 304.1 727.0 304.0 728.0 303.9 C729.0 303.8 729.9 303.7 730.9 303.6 C731.9 303.4 732.9 303.3 733.9 303.2 C734.9 303.1 735.9 303.0 736.9 302.9 C737.9 302.8 738.9 302.7 739.9 302.6 C740.9 302.5 741.9 302.4 742.9 302.2 C743.9 302.1 744.9 302.0 745.9 301.9 C746.9 301.8 747.9 301.7 748.9 301.6 C749.9 301.5 750.9 301.4 751.9 301.2 C752.9 301.1 753.9 301.0 754.9 300.9 C755.9 300.8 756.8 300.7 757.8 300.6 C758.8 300.5 759.8 300.4 760.8 300.3 C761.8 300.1 762.8 300.0 763.8 299.9 C764.8 299.8 765.8 299.7 766.8 299.6 C767.8 299.5 768.8 299.4 769.8 299.3 C770.8 299.1 771.8 299.0 772.8 298.9 C773.8 298.8 774.8 298.7 775.8 298.6 C776.8 298.5 777.8 298.4 778.8 298.2 C779.8 298.1 780.8 298.0 781.8 297.9 C782.7 297.8 783.7 297.7 784.7 297.6 C785.7 297.5 786.7 297.4 787.7 297.2 C788.7 297.1 789.7 297.0 790.7 296.9 C791.7 296.8 792.7 296.7 793.7 296.6 C794.7 296.5 795.7 296.3 796.7 296.2 C797.7 296.1 798.7 296.0 799.7 295.9 C800.7 295.8 801.7 295.7 802.7 295.6 C803.7 295.4 804.7 295.3 805.7 295.2 C806.7 295.1 807.6 295.0 808.6 294.9 C809.6 294.8 810.6 294.7 811.6 294.5 C812.6 294.4 813.6 294.3 814.6 294.2 C815.6 294.1 816.6 294.0 817.6 293.9 C818.6 293.7 819.6 293.6 820.6 293.5 C821.6 293.4 822.6 293.3 823.6 293.2 C824.6 293.1 825.6 293.0 826.6 292.8 C827.6 292.7 828.6 292.6 829.6 292.5 C830.6 292.4 831.6 292.3 832.5 292.2 C833.5 292.0 834.5 291.9 835.5 291.8 C836.5 291.7 837.5 291.6 838.5 291.5 C839.5 291.4 840.5 291.3 841.5 291.1 C842.5 291.0 843.5 290.9 844.5 290.8 C845.5 290.7 846.5 290.6 847.5 290.5 C848.5 290.3 849.5 290.2 850.5 290.1 C851.5 290.0 852.5 289.9 853.5 289.8 C854.5 289.7 855.5 289.6 856.4 289.4 C857.4 289.3 858.4 289.2 859.4 289.1 C860.4 289.0 861.4 288.9 862.4 288.8 C863.4 288.6 864.4 288.5 865.4 288.4 C866.4 288.3 867.4 288.2 868.4 288.1 C869.4 288.0 870.4 287.8 871.4 287.7 C872.4 287.6 873.4 287.5 874.4 287.4 C875.4 287.3 876.4 287.2 877.4 287.1 C878.4 286.9 879.4 286.8 880.4 286.7 C881.3 286.6 882.3 286.5 883.3 286.4 C884.3 286.3 885.3 286.1 886.3 286.0 C887.3 285.9 888.3 285.8 889.3 285.7 C890.3 285.6 891.3 285.5 892.3 285.3 C893.3 285.2 894.3 285.1 895.3 285.0 C896.3 284.9 897.3 284.8 898.3 284.7 C899.3 284.6 900.3 284.4 901.3 284.3 C902.3 284.2 903.3 284.1 904.3 284.0 C905.2 283.9 906.2 283.8 907.2 283.6 C908.2 283.5 909.2 283.4 910.2 283.3 C911.2 283.2 912.2 283.1 913.2 283.0 C914.2 282.9 915.2 282.7 916.2 282.6 C917.2 282.5 918.2 282.4 919.2 282.3 C920.2 282.2 921.2 282.1 922.2 282.0 C923.2 281.8 924.2 281.7 925.2 281.6 C926.2 281.5 927.2 281.4 928.2 281.3 C929.2 281.2 930.1 281.1 931.1 280.9 C932.1 280.8 933.1 280.7 934.1 280.6 C934.9 280.5 935.8 280.4 936.7 280.3 C937.4 280.2 938.0 280.2 938.7 280.1 C939.8 280.0 941.0 279.8 942.1 279.7" stroke="#3a7f98"/>
<path d="M273.8 473.1 C274.2 474.1 274.5 475.2 274.9 476.1 C275.3 477.1 275.5 478.3 276.3 478.9 C277.0 479.4 278.2 479.3 278.9 478.9 C280.0 478.4 280.5 477.2 281.3 476.3 C282.0 475.5 282.6 474.8 283.2 474.0 C283.9 473.2 284.5 472.4 285.1 471.7 C285.8 470.9 286.5 470.2 287.2 469.5 C288.0 468.7 288.7 468.0 289.5 467.3 C290.2 466.5 291.0 465.8 291.8 465.2 C292.6 464.5 293.4 463.9 294.3 463.3 C295.2 462.7 296.1 462.1 297.1 461.7 C298.1 461.2 299.1 460.9 300.1 460.5 C301.1 460.1 302.1 459.7 303.1 459.3 C304.2 459.0 305.2 458.7 306.2 458.4 C307.3 458.2 308.4 458.0 309.4 457.8 C310.5 457.6 311.6 457.4 312.7 457.2 C313.8 457.1 314.8 457.0 315.9 456.8 C316.9 456.7 317.9 456.6 318.9 456.5 C319.9 456.4 320.9 456.3 321.8 456.2 C322.8 456.1 323.8 456.0 324.8 455.9 C325.8 455.8 326.8 455.8 327.8 455.7 C328.8 455.6 329.8 455.5 330.8 455.4 C331.8 455.3 332.8 455.2 333.8 455.2 C334.8 455.1 335.8 455.0 336.8 454.9 C337.8 454.8 338.8 454.7 339.8 454.6 C340.8 454.6 341.8 454.5 342.8 454.4 C343.8 454.3 344.8 454.2 345.8 454.2 C346.8 454.1 347.8 454.0 348.8 453.9 C349.8 453.8 350.8 453.8 351.8 453.7 C352.8 453.6 353.8 453.5 354.8 453.4 C355.8 453.4 356.8 453.3 357.8 453.2 C358.8 453.1 359.8 453.1 360.8 453.0 C361.8 452.9 362.8 452.8 363.8 452.8 C364.8 452.7 365.8 452.6 366.8 452.5 C367.8 452.5 368.8 452.4 369.8 452.3 C370.8 452.3 371.8 452.2 372.8 452.1 C373.8 452.0 374.8 452.0 375.8 451.9 C376.8 451.8 377.8 451.8 378.8 451.7 C379.8 451.6 380.8 451.5 381.8 451.5 C382.8 451.4 383.8 451.3 384.8 451.3 C385.8 451.2 386.8 451.1 387.8 451.1 C388.8 451.0 389.8 450.9 390.8 450.9 C391.8 450.8 392.8 450.7 393.8 450.7 C394.8 450.6 395.8 450.5 396.8 450.5 C397.8 450.4 398.8 450.3 399.8 450.3 C400.8 450.2 401.8 450.1 402.9 450.1 C403.9 450.0 404.9 449.9 405.9 449.9 C406.9 449.8 407.9 449.7 408.9 449.7 C409.9 449.6 410.9 449.5 411.9 449.5 C412.9 449.4 413.9 449.3 414.9 449.3 C415.9 449.2 416.9 449.1 417.9 449.1 C418.9 449.0 419.9 448.9 420.9 448.9 C421.9 448.8 422.9 448.7 423.9 448.7 C424.9 448.6 425.9 448.5 426.9 448.5 C427.9 448.4 428.9 448.3 429.9 448.3 C430.9 448.2 431.9 448.1 432.9 448.1 C433.9 448.0 434.9 447.9 435.9 447.9 C436.9 447.8 437.9 447.7 438.9 447.6 C439.9 447.6 440.9 447.5 441.9 447.4 C442.9 447.4 443.9 447.3 444.9 447.2 C445.9 447.2 446.9 447.1 447.9 447.0 C448.9 446.9 449.9 446.9 450.9 446.8 C451.9 446.7 452.9 446.7 453.9 446.6 C454.9 446.5 455.9 446.4 456.9 446.4 C457.9 446.3 458.9 446.2 459.9 446.2 C460.9 446.1 461.9 446.0 462.9 445.9 C463.9 445.9 464.9 445.8 465.9 445.7 C466.9 445.6 467.9 445.5 468.9 445.5 C469.9 445.4 470.9 445.3 471.9 445.2 C472.9 445.2 473.9 445.1 474.9 445.0 C475.9 444.9 476.9 444.8 477.9 444.8 C478.9 444.7 479.9 444.6 480.9 444.5 C481.9 444.4 482.9 444.3 483.9 444.3 C484.9 444.2 485.9 444.1 486.9 444.0 C487.9 443.9 488.9 443.8 489.9 443.8 C490.9 443.7 491.9 443.6 492.9 443.5 C493.9 443.4 494.9 443.3 495.9 443.2 C496.9 443.1 497.9 443.0 498.9 442.9 C499.9 442.9 500.9 442.8 501.9 442.7 C502.9 442.6 503.9 442.5 504.9 442.4 C505.9 442.3 506.9 442.2 507.9 442.1 C508.9 442.0 509.9 441.9 510.9 441.8 C511.9 441.7 512.9 441.6 513.9 441.5 C514.9 441.4 515.9 441.3 516.9 441.2 C517.9 441.1 518.9 441.0 519.9 440.9 C520.9 440.8 521.9 440.7 522.9 440.6 C523.9 440.4 524.9 440.3 525.9 440.2 C526.9 440.1 527.9 440.0 528.9 439.9 C529.9 439.8 530.9 439.7 531.9 439.6 C532.9 439.4 533.9 439.3 534.9 439.2 C535.9 439.1 536.9 439.0 537.9 438.8 C538.9 438.7 539.9 438.6 540.9 438.5 C541.9 438.4 542.9 438.2 543.9 438.1 C544.9 438.0 545.9 437.9 546.9 437.7 C547.9 437.6 548.9 437.5 549.9 437.3 C550.9 437.2 551.9 437.1 552.9 437.0 C553.9 436.8 554.9 436.7 555.9 436.5 C556.9 436.4 557.9 436.3 558.9 436.1 C559.9 436.0 560.9 435.9 561.9 435.7 C562.9 435.6 563.9 435.4 564.9 435.3 C565.9 435.1 566.9 435.0 567.9 434.8 C568.9 434.7 569.9 434.5 570.9 434.4 C571.9 434.2 572.9 434.1 573.9 433.9 C574.9 433.8 575.9 433.6 576.9 433.4 C577.9 433.3 578.9 433.1 579.9 432.9 C580.9 432.8 581.9 432.6 583.0 432.4 C584.0 432.3 585.0 432.1 586.0 431.9 C587.0 431.7 588.0 431.6 589.0 431.4 C590.0 431.2 591.0 431.0 592.0 430.8 C593.0 430.7 594.0 430.5 595.0 430.3 C596.0 430.1 597.0 429.9 598.0 429.7 C599.0 429.5 600.0 429.3 601.0 429.1 C602.0 428.9 603.0 428.7 604.0 428.5 C605.0 428.3 606.0 428.1 607.0 427.9 C608.0 427.7 609.0 427.5 610.0 427.3 C611.0 427.0 612.0 426.8 613.0 426.6 C614.0 426.4 615.0 426.2 616.0 425.9 C617.0 425.7 618.0 425.5 619.0 425.3 C620.0 425.0 621.0 424.8 622.0 424.5 C623.0 424.3 624.0 424.1 625.0 423.8 C626.0 423.6 627.0 423.3 628.0 423.1 C629.0 422.8 630.0 422.6 631.0 422.3 C632.0 422.1 633.0 421.8 634.0 421.5 C635.0 421.3 636.0 421.0 637.0 420.7 C638.0 420.5 639.0 420.2 640.0 419.9 C641.0 419.6 642.0 419.3 643.0 419.1 C644.0 418.8 645.0 418.5 646.0 418.2 C647.0 417.9 648.0 417.6 649.0 417.3 C650.0 417.0 651.0 416.7 652.0 416.4 C653.0 416.1 654.0 415.8 655.0 415.5 C656.0 415.2 657.0 414.9 658.0 414.5 C659.0 414.2 660.0 413.9 660.9 413.5 C661.9 413.2 662.9 412.8 663.9 412.4 C664.9 411.9 666.0 411.4 667.0 410.9 C668.0 410.4 669.0 409.8 670.0 409.3 C670.9 408.7 671.8 408.2 672.6 407.6 C673.4 407.1 674.3 406.5 675.1 405.8 C675.9 405.2 676.7 404.5 677.5 403.8 C678.3 403.1 679.1 402.3 679.9 401.5 C680.6 400.8 681.4 400.0 682.1 399.2 C682.8 398.4 683.5 397.6 684.2 396.8 C684.8 396.0 685.4 395.1 686.1 394.3 C686.7 393.5 687.3 392.6 687.9 391.8 C688.5 391.0 689.1 390.1 689.7 389.3 C690.2 388.5 690.8 387.7 691.4 386.9 C692.0 386.0 692.5 385.2 693.1 384.4 C693.8 383.6 694.4 382.8 695.0 381.9 C695.7 381.1 696.4 380.2 697.0 379.4 C697.7 378.5 698.3 377.6 699.0 376.8 C699.6 375.9 700.2 375.1 700.8 374.2 C701.4 373.3 702.0 372.4 702.5 371.6 C703.1 370.7 703.7 369.8 704.3 368.9 C704.9 368.1 705.4 367.2 706.1 366.3 C706.7 365.4 707.3 364.5 708.0 363.6 C708.7 362.7 709.4 361.9 710.1 361.0 C710.8 360.2 711.5 359.4 712.2 358.6 C713.0 357.8 713.7 357.1 714.6 356.4 C715.4 355.8 716.3 355.1 717.2 354.7 C718.2 354.2 719.3 353.8 720.3 353.6 C721.4 353.5 722.5 353.5 723.5 353.8 C724.6 354.0 725.6 354.5 726.6 355.0 C727.5 355.6 728.3 356.3 729.1 357.0 C729.9 357.7 730.7 358.6 731.4 359.4 C732.1 360.3 732.7 361.2 733.3 362.1 C733.9 363.0 734.4 363.9 735.0 364.9 C735.5 365.8 736.0 366.8 736.5 367.7 C736.9 368.6 737.3 369.5 737.7 370.5 C738.1 371.4 738.5 372.3 738.8 373.2 C739.2 374.1 739.6 375.0 739.9 376.0 C740.3 377.0 740.6 378.0 740.9 379.0 C741.3 380.0 741.6 381.0 741.9 382.0 C742.3 383.0 742.6 384.0 742.9 385.0 C743.2 386.0 743.5 387.0 743.8 388.0 C744.1 389.0 744.5 390.0 744.8 391.0 C745.1 392.0 745.4 393.0 745.7 394.0 C746.0 395.0 746.4 396.0 746.7 397.0 C747.0 398.0 747.3 399.0 747.6 400.0 C748.0 401.0 748.3 402.0 748.6 403.0 C748.9 404.0 749.2 405.0 749.5 406.0 C749.9 407.0 750.2 408.0 750.5 409.0 C750.8 410.0 751.1 411.0 751.4 412.0 C751.7 413.0 752.0 414.0 752.3 415.0 C752.6 416.0 752.9 417.0 753.2 418.0 C753.5 419.0 753.8 420.0 754.1 421.0 C754.4 422.1 754.7 423.1 755.1 424.2 C755.4 425.2 755.7 426.2 756.1 427.3 C756.5 428.3 756.8 429.3 757.2 430.3 C757.6 431.3 758.0 432.2 758.4 433.2 C758.8 434.1 759.3 435.0 759.7 435.9 C760.2 436.8 760.7 437.7 761.3 438.5 C761.9 439.4 762.5 440.2 763.1 441.0 C763.8 441.7 764.5 442.4 765.2 443.1 C766.0 443.8 766.7 444.4 767.6 445.0 C768.4 445.6 769.3 446.1 770.2 446.6 C771.2 447.1 772.2 447.6 773.2 448.0 C774.2 448.3 775.3 448.7 776.3 448.9 C777.4 449.2 778.4 449.4 779.5 449.5 C780.5 449.7 781.6 449.8 782.6 449.9 C783.7 450.0 784.7 450.0 785.8 450.1 C786.9 450.1 788.0 450.1 789.0 450.2 C790.1 450.2 791.1 450.2 792.1 450.2 C793.1 450.2 794.1 450.2 795.0 450.2 C796.0 450.2 797.0 450.2 798.0 450.2 C799.0 450.3 800.0 450.3 801.0 450.3 C802.0 450.2 803.0 450.2 804.0 450.2 C805.0 450.2 806.0 450.2 807.0 450.2 C808.0 450.2 809.0 450.2 810.0 450.2 C811.0 450.2 812.0 450.2 813.0 450.2 C814.0 450.2 815.0 450.1 816.0 450.1 C817.0 450.1 818.0 450.1 819.0 450.1 C820.0 450.1 821.0 450.1 822.0 450.0 C823.0 450.0 824.0 450.0 825.0 450.0 C826.0 450.0 827.0 450.0 828.0 449.9 C829.0 449.9 830.0 449.9 831.0 449.9 C832.0 449.9 833.0 449.8 834.0 449.8 C835.0 449.8 836.0 449.8 837.0 449.7 C838.0 449.7 839.0 449.7 840.0 449.7 C841.0 449.6 842.0 449.6 843.0 449.6 C844.0 449.6 845.0 449.5 846.0 449.5 C847.0 449.5 848.0 449.5 849.0 449.4 C850.0 449.4 851.0 449.4 852.0 449.3 C853.0 449.3 854.0 449.3 855.0 449.3 C856.0 449.2 857.0 449.2 858.0 449.2 C859.0 449.1 860.0 449.1 861.0 449.1 C862.0 449.1 863.0 449.0 864.0 449.0 C865.0 449.0 866.0 449.0 867.0 448.9 C868.0 448.9 869.0 448.9 870.0 448.9 C871.0 448.8 872.0 448.8 873.0 448.8 C874.0 448.8 875.0 448.8 876.0 448.7 C877.0 448.7 878.0 448.7 879.0 448.7 C880.0 448.7 881.0 448.6 882.0 448.6 C883.0 448.6 884.0 448.6 885.0 448.6 C886.0 448.5 887.0 448.5 888.0 448.5 C889.0 448.5 890.0 448.5 891.0 448.4 C892.0 448.4 893.0 448.4 894.0 448.4 C895.0 448.4 896.0 448.4 897.0 448.3 C898.0 448.3 899.0 448.3 900.0 448.3 C901.0 448.3 902.0 448.2 903.0 448.2 C904.0 448.2 905.0 448.2 906.0 448.2 C907.0 448.2 908.0 448.1 909.0 448.1 C910.0 448.1 911.0 448.1 912.0 448.1 C913.0 448.1 914.0 448.0 915.0 448.0 C916.0 448.0 917.0 448.0 918.0 448.0 C919.0 448.0 920.0 447.9 921.0 447.9 C922.0 447.9 923.0 447.9 924.0 447.9 C925.0 447.9 926.0 447.9 927.0 447.8 C928.0 447.8 929.0 447.8 930.0 447.8 C931.0 447.8 932.0 447.8 933.0 447.7 C934.0 447.7 935.0 447.7 936.0 447.7 C936.9 447.7 937.9 447.7 938.8 447.6 C939.7 447.6 940.5 447.6 941.3 447.6 C942.0 447.6 942.6 447.6 943.2 447.6 C944.5 447.5 945.7 447.5 947.0 447.5" stroke="#1a1a1a"/>
<path d="M327.1 519.0 C327.5 520.0 327.7 521.0 328.2 522.0 C328.6 523.0 328.8 524.1 329.6 524.7 C330.3 525.2 331.4 525.1 332.1 524.7 C333.1 524.1 333.6 522.8 334.3 521.9 C334.9 521.1 335.6 520.3 336.2 519.5 C336.9 518.7 337.4 517.9 338.1 517.1 C338.7 516.3 339.3 515.5 340.0 514.7 C340.6 514.0 341.3 513.2 342.0 512.5 C342.7 511.7 343.5 511.0 344.2 510.3 C345.0 509.6 345.8 508.9 346.7 508.3 C347.5 507.7 348.3 507.1 349.2 506.7 C350.1 506.2 351.0 505.8 351.9 505.5 C352.9 505.1 353.8 504.9 354.8 504.6 C355.8 504.3 356.8 504.1 357.8 503.9 C358.8 503.7 359.8 503.5 360.7 503.3 C361.7 503.2 362.7 503.0 363.7 502.8 C364.7 502.7 365.7 502.5 366.7 502.4 C367.7 502.2 368.7 502.1 369.7 501.9 C370.6 501.8 371.6 501.6 372.6 501.5 C373.6 501.3 374.6 501.2 375.6 501.1 C376.6 500.9 377.5 500.8 378.5 500.7 C379.5 500.5 380.5 500.4 381.4 500.3 C382.5 500.1 383.5 500.0 384.6 499.8 C385.7 499.7 386.8 499.5 387.9 499.4 C389.0 499.3 390.1 499.1 391.2 499.0 C392.3 498.9 393.4 498.7 394.4 498.6 C395.5 498.5 396.6 498.3 397.7 498.2 C398.8 498.1 399.9 498.0 400.9 497.9 C402.0 497.7 403.1 497.6 404.2 497.5 C405.3 497.4 406.3 497.3 407.4 497.1 C408.5 497.0 409.6 496.9 410.7 496.8 C411.8 496.7 412.8 496.6 413.9 496.5 C415.0 496.3 416.1 496.2 417.2 496.1 C418.2 496.0 419.3 495.9 420.4 495.8 C421.5 495.7 422.6 495.6 423.6 495.5 C424.7 495.4 425.8 495.3 426.9 495.2 C428.0 495.1 429.1 495.0 430.1 494.9 C431.2 494.8 432.3 494.7 433.4 494.6 C434.5 494.5 435.5 494.4 436.6 494.3 C437.7 494.2 438.8 494.1 439.9 494.0 C441.0 493.9 442.0 493.8 443.1 493.7 C444.2 493.6 445.3 493.5 446.4 493.4 C447.4 493.3 448.5 493.2 449.6 493.1 C450.7 493.0 451.8 492.9 452.9 492.8 C453.9 492.6 455.0 492.5 456.1 492.4 C457.2 492.3 458.3 492.2 459.3 492.1 C460.4 492.0 461.5 491.9 462.6 491.8 C463.7 491.7 464.8 491.6 465.8 491.5 C466.9 491.4 468.0 491.3 469.1 491.2 C470.2 491.1 471.2 491.0 472.3 490.9 C473.4 490.8 474.5 490.7 475.6 490.6 C476.6 490.4 477.7 490.3 478.8 490.2 C479.9 490.1 481.0 490.0 482.1 489.9 C483.1 489.8 484.2 489.7 485.3 489.6 C486.4 489.4 487.5 489.3 488.5 489.2 C489.6 489.1 490.7 489.0 491.8 488.9 C492.9 488.7 494.0 488.6 495.0 488.5 C496.1 488.4 497.2 488.3 498.3 488.1 C499.4 488.0 500.4 487.9 501.5 487.8 C502.6 487.7 503.7 487.5 504.8 487.4 C505.9 487.3 506.9 487.2 508.0 487.0 C509.1 486.9 510.2 486.8 511.3 486.7 C512.3 486.5 513.4 486.4 514.5 486.3 C515.6 486.1 516.7 486.0 517.8 485.9 C518.8 485.8 519.9 485.6 521.0 485.5 C522.1 485.4 523.2 485.2 524.2 485.1 C525.3 484.9 526.4 484.8 527.5 484.7 C528.6 484.5 529.7 484.4 530.8 484.3 C531.9 484.1 533.0 484.0 534.1 483.8 C535.2 483.7 536.3 483.5 537.4 483.4 C538.3 483.3 539.3 483.1 540.3 483.0 C541.3 482.9 542.2 482.7 543.2 482.6 C544.2 482.5 545.2 482.3 546.2 482.2 C547.1 482.1 548.1 481.9 549.1 481.8 C550.1 481.6 551.1 481.5 552.1 481.4 C553.1 481.2 554.1 481.1 555.1 480.9 C556.1 480.8 557.1 480.6 558.0 480.5 C559.0 480.3 560.0 480.2 561.0 480.0 C562.0 479.9 563.0 479.7 564.0 479.6 C565.0 479.4 566.0 479.3 567.0 479.1 C568.0 479.0 568.9 478.8 569.9 478.7 C570.9 478.5 571.9 478.4 572.9 478.2 C573.9 478.1 574.9 477.9 575.9 477.7 C576.9 477.6 577.9 477.4 578.9 477.2 C579.9 477.1 580.8 476.9 581.8 476.7 C582.8 476.6 583.8 476.4 584.8 476.2 C585.8 476.1 586.8 475.9 587.8 475.7 C588.8 475.5 589.8 475.4 590.8 475.2 C591.8 475.0 592.7 474.8 593.7 474.6 C594.7 474.5 595.7 474.3 596.7 474.1 C597.7 473.9 598.7 473.7 599.7 473.5 C600.7 473.3 601.7 473.1 602.7 472.9 C603.7 472.7 604.6 472.6 605.6 472.4 C606.6 472.2 607.6 471.9 608.6 471.7 C609.6 471.5 610.6 471.3 611.6 471.1 C612.6 470.9 613.6 470.7 614.6 470.5 C615.6 470.3 616.5 470.1 617.5 469.8 C618.5 469.6 619.5 469.4 620.5 469.2 C621.5 468.9 622.5 468.7 623.5 468.5 C624.5 468.2 625.5 468.0 626.5 467.8 C627.4 467.5 628.4 467.3 629.4 467.1 C630.4 466.8 631.4 466.6 632.4 466.3 C633.4 466.1 634.4 465.8 635.4 465.6 C636.4 465.3 637.4 465.0 638.4 464.8 C639.3 464.5 640.3 464.2 641.3 464.0 C642.3 463.7 643.3 463.4 644.3 463.2 C645.3 462.9 646.3 462.6 647.3 462.3 C648.3 462.0 649.3 461.7 650.3 461.5 C651.2 461.2 652.2 460.9 653.2 460.6 C654.2 460.3 655.2 460.0 656.2 459.7 C657.2 459.4 658.2 459.0 659.2 458.7 C660.2 458.4 661.2 458.1 662.2 457.8 C663.1 457.4 664.1 457.1 665.1 456.8 C666.1 456.5 667.1 456.1 668.1 455.8 C669.1 455.5 670.1 455.1 671.1 454.8 C672.1 454.4 673.1 454.1 674.1 453.7 C675.1 453.3 676.1 453.0 677.1 452.6 C678.1 452.2 679.0 451.8 680.0 451.4 C681.0 451.0 681.9 450.6 682.8 450.2 C683.8 449.8 684.7 449.4 685.6 448.9 C686.5 448.5 687.5 448.0 688.4 447.6 C689.3 447.1 690.2 446.6 691.0 446.1 C691.9 445.6 692.8 445.0 693.6 444.4 C694.4 443.8 695.3 443.2 696.0 442.6 C696.8 441.9 697.6 441.3 698.3 440.5 C699.0 439.8 699.7 439.1 700.3 438.3 C701.0 437.5 701.5 436.7 702.1 435.9 C702.7 435.1 703.3 434.3 703.8 433.4 C704.5 432.5 705.0 431.6 705.6 430.7 C706.3 429.8 706.9 428.8 707.5 427.9 C708.1 426.9 708.8 426.0 709.4 425.0 C710.0 424.1 710.6 423.2 711.2 422.3 C711.8 421.4 712.4 420.4 712.9 419.5 C713.5 418.5 714.0 417.6 714.5 416.6 C715.0 415.7 715.5 414.7 715.9 413.7 C716.4 412.8 716.9 411.8 717.4 410.8 C717.9 409.8 718.4 408.9 718.9 407.9 C719.5 406.9 720.0 405.9 720.5 405.0 C721.1 404.0 721.7 403.1 722.3 402.2 C722.8 401.3 723.4 400.4 724.1 399.5 C724.7 398.7 725.4 397.9 726.1 397.2 C726.8 396.5 727.5 395.8 728.4 395.3 C729.2 394.8 730.0 394.3 730.9 394.1 C731.9 393.9 732.9 393.9 733.8 394.1 C734.8 394.3 735.8 394.9 736.7 395.5 C737.5 396.0 738.1 396.8 738.7 397.6 C739.3 398.3 739.8 399.2 740.2 400.1 C740.8 401.1 741.2 402.2 741.7 403.2 C742.2 404.3 742.6 405.4 743.1 406.5 C743.5 407.6 743.9 408.7 744.3 409.8 C744.7 410.9 745.0 412.0 745.4 413.1 C745.7 414.1 745.9 415.1 746.2 416.2 C746.5 417.2 746.7 418.2 746.9 419.2 C747.1 420.2 747.3 421.2 747.5 422.2 C747.7 423.3 747.9 424.3 748.2 425.3 C748.4 426.3 748.6 427.3 748.8 428.3 C749.1 429.3 749.3 430.3 749.5 431.3 C749.7 432.3 750.0 433.3 750.2 434.4 C750.4 435.4 750.6 436.4 750.8 437.4 C751.0 438.4 751.2 439.4 751.4 440.5 C751.6 441.5 751.7 442.5 751.9 443.6 C752.1 444.6 752.2 445.7 752.4 446.7 C752.5 447.7 752.7 448.8 752.8 449.8 C753.0 450.9 753.1 451.9 753.3 453.0 C753.5 454.0 753.7 455.0 753.9 456.0 C754.0 457.0 754.2 458.0 754.4 459.0 C754.6 460.0 754.8 461.0 755.1 462.0 C755.3 463.0 755.5 464.0 755.7 465.0 C755.9 466.0 756.1 467.0 756.3 468.0 C756.6 469.0 756.8 469.9 757.1 470.9 C757.4 471.9 757.7 472.8 758.0 473.8 C758.3 474.8 758.7 475.7 759.0 476.7 C759.4 477.6 759.8 478.5 760.2 479.4 C760.6 480.3 761.1 481.3 761.5 482.2 C762.0 483.1 762.4 484.0 762.9 484.9 C763.5 485.9 764.1 486.8 764.7 487.7 C765.3 488.6 766.0 489.5 766.8 490.2 C767.5 491.0 768.4 491.7 769.3 492.3 C770.2 493.0 771.2 493.5 772.2 494.0 C773.2 494.5 774.3 494.8 775.4 495.2 C776.4 495.5 777.4 495.7 778.4 495.9 C779.4 496.1 780.4 496.3 781.4 496.4 C782.4 496.6 783.4 496.7 784.4 496.8 C785.5 496.9 786.5 496.9 787.5 497.0 C788.6 497.1 789.6 497.1 790.7 497.2 C791.7 497.2 792.7 497.2 793.8 497.3 C794.8 497.3 795.9 497.3 796.9 497.3 C798.0 497.3 799.0 497.3 800.1 497.3 C801.1 497.3 802.1 497.2 803.0 497.2 C804.0 497.2 805.0 497.2 806.0 497.2 C807.0 497.1 808.0 497.1 809.0 497.1 C810.0 497.1 811.0 497.0 812.0 497.0 C813.0 497.0 814.0 496.9 815.0 496.9 C816.0 496.9 817.0 496.8 818.0 496.8 C819.0 496.8 820.0 496.7 821.0 496.7 C822.0 496.7 823.0 496.6 824.0 496.6 C825.0 496.6 826.0 496.5 827.0 496.5 C828.0 496.5 829.0 496.4 830.0 496.4 C831.0 496.4 832.0 496.3 833.0 496.3 C834.0 496.3 835.0 496.2 836.0 496.2 C837.0 496.2 838.0 496.1 839.0 496.1 C840.0 496.1 841.0 496.0 842.0 496.0 C843.0 496.0 844.0 496.0 845.0 495.9 C846.0 495.9 847.0 495.9 848.0 495.9 C849.0 495.8 850.0 495.8 851.0 495.8 C852.0 495.8 853.0 495.7 854.0 495.7 C855.0 495.7 856.0 495.7 857.0 495.7 C858.0 495.6 859.0 495.6 860.0 495.6 C861.0 495.6 862.0 495.6 863.0 495.5 C864.0 495.5 865.0 495.5 866.0 495.5 C867.0 495.5 868.0 495.5 869.0 495.4 C870.0 495.4 871.0 495.4 872.0 495.4 C873.0 495.4 874.0 495.4 875.0 495.3 C876.0 495.3 877.0 495.3 878.0 495.3 C879.0 495.3 880.0 495.3 881.0 495.2 C882.0 495.2 883.0 495.2 884.0 495.2 C885.0 495.2 886.0 495.2 887.0 495.1 C888.0 495.1 889.0 495.1 890.0 495.1 C891.0 495.1 892.0 495.1 893.0 495.0 C894.0 495.0 895.0 495.0 896.0 495.0 C897.0 495.0 898.0 495.0 899.0 495.0 C900.0 494.9 901.0 494.9 902.0 494.9 C903.0 494.9 904.0 494.9 905.0 494.9 C906.0 494.9 907.0 494.8 908.0 494.8 C909.0 494.8 910.0 494.8 911.0 494.8 C912.0 494.8 913.0 494.8 914.0 494.7 C915.0 494.7 916.0 494.7 917.0 494.7 C918.0 494.7 919.0 494.7 920.0 494.7 C921.0 494.6 922.0 494.6 923.0 494.6 C924.0 494.6 925.0 494.6 926.0 494.6 C927.0 494.6 928.0 494.5 929.0 494.5 C930.0 494.5 931.0 494.5 932.0 494.5 C933.0 494.5 934.0 494.5 935.0 494.4 C936.0 494.4 936.9 494.4 937.9 494.4 C938.8 494.4 939.7 494.4 940.6 494.4 C941.3 494.3 942.0 494.3 942.7 494.3 C944.1 494.3 945.6 494.3 947.0 494.2" stroke="#d42a1e"/>
<path d="M379.8 593.7 C380.3 594.8 380.5 596.1 381.2 597.0 C381.8 597.7 382.8 598.7 383.7 598.5 C384.9 598.2 385.5 596.8 386.3 595.9 C387.0 595.1 387.6 594.4 388.3 593.6 C388.9 592.9 389.5 592.1 390.2 591.3 C390.8 590.5 391.5 589.8 392.2 589.0 C392.9 588.3 393.6 587.5 394.3 586.8 C395.0 586.0 395.7 585.3 396.5 584.7 C397.3 584.0 398.1 583.3 398.9 582.7 C399.8 582.1 400.6 581.4 401.5 580.9 C402.4 580.4 403.4 580.2 404.4 579.8 C405.4 579.4 406.3 579.0 407.2 578.7 C408.2 578.4 409.1 578.2 410.1 577.9 C411.1 577.7 412.1 577.5 413.0 577.3 C414.0 577.1 415.0 576.9 416.0 576.8 C417.0 576.6 418.0 576.4 419.0 576.3 C420.0 576.1 421.0 575.9 422.0 575.8 C423.0 575.6 423.9 575.5 424.9 575.3 C425.9 575.2 426.9 575.0 427.8 574.9 C428.8 574.8 429.8 574.6 430.8 574.5 C431.8 574.3 432.9 574.2 433.9 574.0 C435.0 573.9 436.1 573.7 437.2 573.5 C438.3 573.4 439.4 573.2 440.5 573.1 C441.6 572.9 442.7 572.8 443.8 572.6 C444.8 572.5 445.9 572.3 447.0 572.2 C448.1 572.0 449.1 571.9 450.2 571.7 C451.3 571.5 452.4 571.4 453.5 571.2 C454.5 571.1 455.6 570.9 456.7 570.8 C457.8 570.6 458.9 570.5 459.9 570.3 C461.0 570.2 462.1 570.0 463.2 569.9 C464.3 569.8 465.3 569.6 466.4 569.5 C467.5 569.3 468.6 569.2 469.7 569.0 C470.7 568.9 471.8 568.7 472.9 568.6 C474.0 568.4 475.1 568.3 476.1 568.1 C477.2 568.0 478.3 567.8 479.4 567.7 C480.5 567.5 481.5 567.4 482.6 567.2 C483.7 567.1 484.8 566.9 485.9 566.8 C486.9 566.6 488.0 566.5 489.1 566.3 C490.2 566.2 491.3 566.0 492.3 565.9 C493.4 565.7 494.5 565.6 495.6 565.4 C496.7 565.3 497.8 565.1 498.9 564.9 C500.0 564.8 501.1 564.6 502.2 564.5 C503.2 564.3 504.2 564.2 505.2 564.0 C506.2 563.9 507.2 563.8 508.1 563.6 C509.1 563.5 510.1 563.3 511.1 563.2 C512.0 563.0 513.0 562.9 514.0 562.8 C515.0 562.6 516.0 562.5 517.0 562.3 C518.0 562.2 519.0 562.0 519.9 561.9 C520.9 561.7 521.9 561.6 522.9 561.4 C523.9 561.3 524.9 561.1 525.9 561.0 C526.9 560.8 527.9 560.6 528.9 560.5 C529.8 560.3 530.8 560.2 531.8 560.0 C532.8 559.9 533.8 559.7 534.8 559.5 C535.8 559.4 536.8 559.2 537.8 559.1 C538.7 558.9 539.7 558.7 540.7 558.6 C541.7 558.4 542.7 558.2 543.7 558.1 C544.7 557.9 545.7 557.7 546.7 557.6 C547.7 557.4 548.6 557.2 549.6 557.1 C550.6 556.9 551.6 556.7 552.6 556.5 C553.6 556.4 554.6 556.2 555.6 556.0 C556.6 555.8 557.6 555.7 558.5 555.5 C559.5 555.3 560.5 555.1 561.5 554.9 C562.5 554.7 563.5 554.6 564.5 554.4 C565.5 554.2 566.5 554.0 567.4 553.8 C568.4 553.6 569.4 553.4 570.4 553.2 C571.4 553.0 572.4 552.8 573.4 552.6 C574.4 552.5 575.4 552.3 576.4 552.1 C577.3 551.9 578.3 551.6 579.3 551.4 C580.3 551.2 581.3 551.0 582.3 550.8 C583.3 550.6 584.3 550.4 585.3 550.2 C586.2 550.0 587.2 549.8 588.2 549.6 C589.2 549.3 590.2 549.1 591.2 548.9 C592.2 548.7 593.2 548.5 594.2 548.2 C595.2 548.0 596.1 547.8 597.1 547.6 C598.1 547.3 599.1 547.1 600.1 546.9 C601.1 546.6 602.1 546.4 603.1 546.2 C604.1 545.9 605.1 545.7 606.0 545.5 C607.0 545.2 608.0 545.0 609.0 544.7 C610.0 544.5 611.0 544.3 612.0 544.0 C613.0 543.8 614.0 543.5 614.9 543.3 C615.9 543.0 616.9 542.8 617.9 542.5 C618.9 542.3 619.9 542.0 620.9 541.8 C621.9 541.5 622.9 541.3 623.9 541.0 C624.8 540.8 625.8 540.5 626.8 540.3 C627.8 540.0 628.8 539.8 629.8 539.5 C630.8 539.2 631.8 539.0 632.8 538.7 C633.7 538.5 634.7 538.2 635.7 537.9 C636.7 537.7 637.7 537.4 638.7 537.2 C639.7 536.9 640.7 536.6 641.7 536.4 C642.7 536.1 643.6 535.9 644.6 535.6 C645.6 535.3 646.6 535.1 647.6 534.8 C648.6 534.5 649.6 534.3 650.6 534.0 C651.6 533.8 652.6 533.5 653.5 533.2 C654.5 533.0 655.5 532.7 656.5 532.4 C657.5 532.2 658.5 531.9 659.5 531.6 C660.5 531.4 661.5 531.1 662.4 530.8 C663.4 530.6 664.4 530.3 665.4 530.0 C666.4 529.8 667.4 529.5 668.4 529.2 C669.4 528.9 670.4 528.7 671.4 528.4 C672.3 528.1 673.3 527.8 674.3 527.5 C675.3 527.3 676.3 527.0 677.3 526.7 C678.3 526.4 679.3 526.1 680.2 525.8 C681.2 525.5 682.2 525.2 683.2 524.9 C684.2 524.6 685.2 524.3 686.2 524.0 C687.2 523.7 688.2 523.4 689.2 523.1 C690.1 522.8 691.1 522.5 692.1 522.2 C693.1 521.9 694.1 521.5 695.1 521.2 C696.1 520.9 697.1 520.5 698.1 520.2 C699.0 519.9 700.0 519.5 701.0 519.2 C702.0 518.8 702.9 518.5 703.9 518.1 C704.9 517.7 705.9 517.3 706.9 516.8 C707.9 516.4 709.0 515.9 710.0 515.5 C711.0 515.0 712.0 514.5 713.0 514.0 C714.1 513.5 715.1 513.0 716.1 512.4 C717.0 511.9 717.9 511.3 718.7 510.7 C719.5 510.1 720.3 509.5 721.0 508.9 C721.8 508.2 722.5 507.6 723.2 506.9 C724.0 506.2 724.7 505.5 725.4 504.8 C726.2 504.1 726.9 503.3 727.7 502.6 C728.4 501.8 729.2 501.0 729.9 500.2 C730.6 499.5 731.3 498.7 732.0 497.9 C732.6 497.1 733.2 496.4 733.8 495.6 C734.4 494.8 735.0 494.0 735.5 493.2 C736.1 492.4 736.7 491.5 737.2 490.6 C737.9 489.6 738.5 488.7 739.1 487.7 C739.7 486.8 740.3 485.8 741.0 484.9 C741.6 484.1 742.2 483.3 742.8 482.6 C743.5 481.9 744.1 481.2 744.9 480.6 C745.8 479.9 746.8 479.1 747.9 478.7 C749.1 478.2 750.4 477.9 751.7 477.8 C752.7 477.8 753.7 478.1 754.6 478.5 C755.4 478.8 756.2 479.3 756.9 479.9 C757.6 480.5 758.2 481.1 758.8 481.9 C759.4 482.6 759.9 483.4 760.4 484.2 C761.0 485.1 761.5 486.1 761.9 487.1 C762.4 488.1 762.8 489.2 763.2 490.2 C763.5 491.3 763.9 492.3 764.2 493.4 C764.5 494.5 764.7 495.5 765.0 496.5 C765.2 497.5 765.4 498.4 765.6 499.4 C765.8 500.4 766.0 501.3 766.2 502.3 C766.4 503.3 766.5 504.3 766.7 505.2 C766.9 506.2 767.0 507.2 767.2 508.2 C767.4 509.2 767.6 510.2 767.7 511.2 C767.9 512.2 768.1 513.1 768.3 514.1 C768.5 515.1 768.7 516.1 768.8 517.1 C769.0 518.1 769.2 519.1 769.4 520.0 C769.6 521.1 769.8 522.1 770.0 523.1 C770.3 524.2 770.5 525.2 770.7 526.3 C770.9 527.3 771.2 528.3 771.4 529.4 C771.6 530.4 771.9 531.5 772.1 532.5 C772.3 533.6 772.6 534.6 772.8 535.6 C773.0 536.6 773.3 537.7 773.5 538.7 C773.7 539.7 774.0 540.7 774.2 541.7 C774.4 542.7 774.7 543.7 774.9 544.7 C775.2 545.7 775.4 546.7 775.7 547.7 C776.0 548.7 776.3 549.7 776.6 550.7 C776.9 551.7 777.2 552.7 777.6 553.6 C777.9 554.6 778.3 555.5 778.7 556.5 C779.0 557.4 779.5 558.3 779.9 559.2 C780.4 560.1 780.8 561.0 781.4 561.9 C781.9 562.8 782.5 563.6 783.1 564.4 C783.7 565.2 784.4 566.0 785.2 566.7 C785.9 567.3 786.7 567.9 787.6 568.4 C788.4 568.9 789.3 569.3 790.2 569.6 C791.1 569.9 792.0 570.1 793.0 570.3 C794.0 570.5 795.0 570.6 796.0 570.7 C797.0 570.8 798.0 570.9 799.0 570.9 C800.0 571.0 801.0 571.0 802.0 571.1 C803.0 571.1 804.0 571.1 805.0 571.1 C806.0 571.2 807.0 571.2 808.0 571.2 C809.0 571.2 810.0 571.2 811.0 571.2 C812.0 571.2 813.0 571.2 814.0 571.2 C815.0 571.2 816.0 571.2 817.0 571.2 C818.0 571.2 819.0 571.2 820.0 571.2 C821.0 571.1 822.0 571.1 823.0 571.1 C824.0 571.1 825.0 571.1 826.0 571.1 C827.0 571.1 828.0 571.1 829.0 571.1 C830.0 571.0 831.0 571.0 832.0 571.0 C833.0 571.0 834.0 571.0 835.0 571.0 C836.0 571.0 837.0 571.0 838.0 571.0 C839.0 570.9 840.0 570.9 841.0 570.9 C842.0 570.9 843.0 570.9 844.0 570.9 C845.0 570.9 846.0 570.9 847.0 570.9 C848.0 570.8 849.0 570.8 850.0 570.8 C851.0 570.8 852.0 570.8 853.0 570.8 C854.0 570.8 855.0 570.8 856.0 570.7 C857.0 570.7 858.0 570.7 859.0 570.7 C860.0 570.7 861.0 570.7 862.0 570.7 C863.0 570.7 864.0 570.6 865.0 570.6 C866.0 570.6 867.0 570.6 868.0 570.6 C869.0 570.6 870.0 570.6 871.0 570.5 C872.0 570.5 873.0 570.5 874.0 570.5 C875.0 570.5 876.0 570.5 877.0 570.5 C878.0 570.5 879.0 570.4 880.0 570.4 C881.0 570.4 882.0 570.4 883.0 570.4 C884.0 570.4 885.0 570.4 886.0 570.3 C887.0 570.3 888.0 570.3 889.0 570.3 C890.0 570.3 891.0 570.3 892.0 570.3 C893.0 570.2 894.0 570.2 895.0 570.2 C896.0 570.2 897.0 570.2 898.0 570.2 C899.0 570.2 900.0 570.1 901.0 570.1 C902.0 570.1 903.0 570.1 904.0 570.1 C905.0 570.1 906.0 570.1 907.0 570.1 C908.0 570.0 909.0 570.0 910.0 570.0 C911.0 570.0 912.0 570.0 913.0 570.0 C914.0 570.0 915.0 569.9 916.0 569.9 C917.0 569.9 918.0 569.9 919.0 569.9 C920.0 569.9 921.0 569.9 922.0 569.8 C923.0 569.8 924.0 569.8 925.0 569.8 C926.0 569.8 927.0 569.8 928.0 569.8 C929.0 569.7 930.0 569.7 931.0 569.7 C932.0 569.7 933.0 569.7 934.0 569.7 C935.0 569.7 936.0 569.6 937.0 569.6 C937.9 569.6 938.8 569.6 939.7 569.6 C940.5 569.6 941.3 569.6 942.0 569.6 C942.6 569.6 943.1 569.6 943.7 569.5 C944.8 569.5 945.9 569.5 947.0 569.5" stroke="#4cd848"/>
</g>
<line x1="676.5" y1="53.6" x2="676.5" y2="306.5" stroke="#111" stroke-width="1.8" stroke-dasharray="8.3 6.97"/>
<rect x="123" y="10" width="893" height="608" fill="none" stroke="#111" stroke-width="2"/>
<g stroke="#111" stroke-width="2"><line x1="123.0" y1="618" x2="123.0" y2="630.5"/><line x1="175.6" y1="618" x2="175.6" y2="625.0"/><line x1="228.1" y1="618" x2="228.1" y2="630.5"/><line x1="280.6" y1="618" x2="280.6" y2="625.0"/><line x1="333.2" y1="618" x2="333.2" y2="630.5"/><line x1="385.8" y1="618" x2="385.8" y2="625.0"/><line x1="438.3" y1="618" x2="438.3" y2="630.5"/><line x1="490.8" y1="618" x2="490.8" y2="625.0"/><line x1="543.4" y1="618" x2="543.4" y2="630.5"/><line x1="596.0" y1="618" x2="596.0" y2="625.0"/><line x1="648.5" y1="618" x2="648.5" y2="630.5"/><line x1="701.0" y1="618" x2="701.0" y2="625.0"/><line x1="753.6" y1="618" x2="753.6" y2="630.5"/><line x1="806.1" y1="618" x2="806.1" y2="625.0"/><line x1="858.7" y1="618" x2="858.7" y2="630.5"/><line x1="911.2" y1="618" x2="911.2" y2="625.0"/><line x1="963.8" y1="618" x2="963.8" y2="630.5"/><line x1="1016.4" y1="618" x2="1016.4" y2="625.0"/></g>
<g font-size="31" fill="#111" stroke="#111" stroke-width="0.3"><text transform="translate(96.15 664.5) scale(0.939 1)">110</text><text transform="translate(201.25 664.5) scale(0.939 1)">120</text><text transform="translate(306.35 664.5) scale(0.939 1)">130</text><text transform="translate(411.45 664.5) scale(0.939 1)">140</text><text transform="translate(516.55 664.5) scale(0.939 1)">150</text><text transform="translate(621.65 664.5) scale(0.939 1)">160</text><text transform="translate(726.75 664.5) scale(0.939 1)">170</text><text transform="translate(831.85 664.5) scale(0.939 1)">180</text><text transform="translate(936.95 664.5) scale(0.939 1)">190</text></g>
<text transform="translate(458 730.3) scale(0.975 1)" font-size="36" fill="#111" stroke="#111" stroke-width="0.3">Temperature ( °C)</text>
<text transform="translate(26.6,311) rotate(-90)" text-anchor="middle" font-size="28" fill="#111">endo</text>
<line x1="86" y1="392" x2="86" y2="250" stroke="#222" stroke-width="1.8"/>
<path d="M86 241.3 L90.4 253.4 L81.6 253.4 Z" fill="#111"/>
<text transform="translate(131.8 141.7) scale(0.984 1)" font-size="30" fill="#111" stroke="#111" stroke-width="0.4">PP/Hemp-GMA 80/20</text>
<text transform="translate(126.3 431) scale(0.974 1)" font-size="30" fill="#111" stroke="#111" stroke-width="0.4">PP/Hemp 80/20</text>
<text transform="translate(757.50 108.40) scale(0.940 1)" font-size="23.0" fill="#262626">T</text><text transform="translate(775.50 118.90) scale(1.100 1)" font-size="12.0" fill="#262626">c</text><text transform="translate(781.65 108.40) scale(1.000 1)" font-size="23.0" fill="#262626">=120</text><text transform="translate(847.80 95.90) scale(1.000 1)" font-size="14.0" fill="#262626">0</text><text transform="translate(856.15 108.40) scale(1.000 1)" font-size="23.0" fill="#262626">C</text><text transform="translate(796.70 161.40) scale(0.957 1)" font-size="23.0" fill="#262626">125</text><text transform="translate(845.60 148.70) scale(1.000 1)" font-size="13.0" fill="#262626">0</text><text transform="translate(854.75 161.40) scale(0.986 1)" font-size="23.0" fill="#262626">C</text><text transform="translate(799.30 219.30) scale(0.905 1)" font-size="21.5" fill="#262626">130</text><rect x="845.80" y="199.00" width="4.10" height="7.10" fill="none" stroke="#262626" stroke-width="1.6"/><text transform="translate(852.60 219.00) scale(0.916 1)" font-size="21.5" fill="#262626">C</text><text transform="translate(798.20 280.00) scale(0.896 1)" font-size="21.5" fill="#262626">135</text><rect x="843.10" y="258.90" width="3.70" height="5.80" fill="none" stroke="#262626" stroke-width="1.6"/><text transform="translate(851.40 280.00) scale(0.887 1)" font-size="21.5" fill="#262626">C</text><text transform="translate(836.30 438.40) scale(0.893 1)" font-size="21.5" fill="#262626">125</text><rect x="882.70" y="418.60" width="3.60" height="6.10" fill="none" stroke="#262626" stroke-width="1.6"/><text transform="translate(889.40 438.40) scale(0.887 1)" font-size="21.5" fill="#262626">C</text><text transform="translate(831.80 493.00) scale(0.893 1)" font-size="21.5" fill="#262626">130</text><rect x="878.20" y="472.10" width="3.60" height="5.60" fill="none" stroke="#262626" stroke-width="1.6"/><text transform="translate(884.80 493.00) scale(0.960 1)" font-size="21.5" fill="#262626">C</text><text transform="translate(830.50 554.90) scale(0.908 1)" font-size="21.5" fill="#262626">135</text><rect x="877.20" y="534.20" width="3.90" height="5.50" fill="none" stroke="#262626" stroke-width="1.6"/><text transform="translate(883.20 554.90) scale(0.967 1)" font-size="21.5" fill="#262626">C</text>
</svg>
</body></html>
